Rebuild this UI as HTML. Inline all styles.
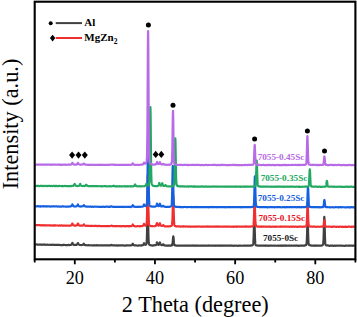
<!DOCTYPE html>
<html><head><meta charset="utf-8"><style>
html,body{margin:0;padding:0;background:#fff;}
svg{display:block;} .t{font-family:"Liberation Serif",serif;}
</style></head><body>
<svg width="357" height="317" viewBox="0 0 357 317">
<rect width="357" height="317" fill="#fff"/>
<polyline points="35.20,244.65 35.70,244.55 36.20,244.53 36.70,244.39 37.20,244.53 37.70,244.53 38.20,244.57 38.70,244.53 39.20,244.59 39.70,244.57 40.20,244.51 40.70,244.70 41.20,244.71 41.70,244.79 42.20,244.66 42.70,244.64 43.20,244.64 43.70,244.57 44.20,244.78 44.70,244.62 45.20,244.62 45.70,244.71 46.20,244.86 46.70,244.77 47.20,244.68 47.70,244.71 48.20,244.83 48.70,244.77 49.20,244.73 49.70,244.78 50.20,244.87 50.70,244.98 51.20,244.73 51.70,244.79 52.20,244.78 52.70,244.66 53.20,244.79 53.70,244.79 54.20,244.97 54.70,244.88 55.20,244.76 55.70,244.95 56.20,244.88 56.70,244.78 57.20,244.88 57.70,244.88 58.20,244.87 58.70,244.95 59.20,244.77 59.70,244.94 60.20,245.05 60.70,245.04 61.20,245.07 61.70,245.08 62.20,245.11 62.70,244.91 63.20,245.07 63.70,244.86 64.20,244.97 64.70,244.87 65.20,245.11 65.70,245.14 66.20,245.02 66.70,245.18 67.20,244.98 67.70,245.05 68.20,245.05 68.70,244.94 69.20,245.05 69.40,245.10 69.50,245.12 69.60,245.14 69.70,245.15 69.80,245.10 69.90,245.05 70.00,244.99 70.10,244.94 70.20,244.88 70.30,244.90 70.40,244.92 70.50,244.93 70.60,244.95 70.70,244.96 70.80,244.92 70.90,244.87 71.00,244.82 71.10,244.77 71.20,244.70 71.30,244.68 71.40,244.64 71.50,244.58 71.60,244.51 71.70,244.40 71.80,244.22 71.90,244.00 72.00,243.74 72.10,243.47 72.20,243.20 72.30,243.02 72.40,242.95 72.50,243.02 72.60,243.21 72.70,243.46 72.80,243.72 72.90,243.95 73.00,244.15 73.10,244.32 73.20,244.45 73.30,244.55 73.40,244.63 73.50,244.70 73.60,244.75 73.70,244.79 73.80,244.80 73.90,244.81 74.00,244.81 74.10,244.80 74.20,244.80 74.30,244.86 74.40,244.92 74.50,244.97 74.60,245.03 74.70,245.08 74.80,245.04 74.90,245.00 75.00,244.96 75.10,244.92 75.20,244.88 75.30,244.90 75.40,244.92 75.50,244.95 75.60,244.97 75.70,244.99 75.80,244.99 75.90,244.98 76.00,244.98 76.10,244.97 76.20,244.96 76.30,244.91 76.40,244.87 76.50,244.81 76.60,244.75 76.70,244.68 76.80,244.64 76.90,244.59 77.00,244.52 77.10,244.43 77.20,244.31 77.30,244.17 77.40,243.99 77.50,243.77 77.60,243.53 77.70,243.30 77.80,243.10 77.90,243.01 78.00,243.06 78.10,243.23 78.20,243.46 78.30,243.70 78.40,243.92 78.50,244.11 78.60,244.26 78.70,244.38 78.80,244.46 78.90,244.51 79.00,244.55 79.10,244.58 79.20,244.60 79.30,244.67 79.40,244.73 79.50,244.79 79.60,244.85 79.70,244.90 79.80,244.92 79.90,244.94 80.00,244.96 80.10,244.98 80.20,244.99 80.30,245.00 80.40,245.01 80.50,245.02 80.60,245.03 80.70,245.03 80.80,245.03 80.90,245.02 81.00,245.02 81.10,245.01 81.20,245.00 81.30,245.02 81.40,245.04 81.50,245.06 81.60,245.08 81.70,245.09 81.80,245.07 81.90,245.04 82.00,245.02 82.10,244.99 82.20,244.96 82.30,244.95 82.40,244.93 82.50,244.91 82.60,244.88 82.70,244.85 82.80,244.81 82.90,244.76 83.00,244.70 83.10,244.62 83.20,244.52 83.30,244.36 83.40,244.18 83.50,244.00 83.60,243.82 83.70,243.69 83.80,243.66 83.90,243.71 84.00,243.83 84.10,243.99 84.20,244.17 84.30,244.36 84.40,244.54 84.50,244.69 84.60,244.83 84.70,244.95 84.80,244.99 84.90,245.03 85.00,245.05 85.10,245.07 85.20,245.08 85.30,245.07 85.40,245.06 85.50,245.05 85.60,245.03 85.70,245.01 85.80,245.04 85.90,245.07 86.00,245.10 86.10,245.13 86.20,245.16 86.30,245.18 86.40,245.19 86.50,245.21 86.60,245.23 86.70,245.24 86.80,245.26 87.20,245.32 87.70,245.25 88.20,245.20 88.70,245.20 89.20,245.32 89.70,245.30 90.20,245.24 90.70,245.27 91.20,245.26 91.70,245.36 92.20,245.25 92.70,245.35 93.20,245.38 93.70,245.36 94.20,245.25 94.70,245.43 95.20,245.28 95.70,245.37 96.20,245.28 96.70,245.20 97.20,245.36 97.70,245.37 98.20,245.35 98.70,245.38 99.20,245.31 99.70,245.30 100.20,245.35 100.70,245.52 101.20,245.44 101.70,245.33 102.20,245.42 102.70,245.34 103.20,245.35 103.70,245.46 104.20,245.35 104.70,245.26 105.20,245.32 105.70,245.40 106.20,245.41 106.70,245.50 107.20,245.34 107.70,245.46 108.20,245.43 108.70,245.39 109.20,245.46 109.70,245.41 110.20,245.27 110.70,245.34 111.20,244.93 111.70,244.99 112.20,245.23 112.70,245.37 113.20,245.33 113.70,245.41 114.20,245.41 114.70,245.51 115.20,245.37 115.70,245.45 116.20,245.43 116.70,245.35 117.20,245.67 117.70,245.45 118.20,245.34 118.70,245.57 119.20,245.38 119.70,245.50 120.20,245.54 120.70,245.42 121.20,245.44 121.70,245.43 122.20,245.47 122.70,245.35 123.20,245.38 123.70,245.47 124.20,245.56 124.70,245.53 125.20,245.62 125.70,245.54 126.20,245.44 126.70,245.47 127.20,245.32 127.70,245.40 128.20,245.40 128.70,245.50 129.20,245.52 129.70,245.41 129.80,245.41 129.90,245.41 130.00,245.40 130.10,245.40 130.20,245.39 130.30,245.37 130.40,245.35 130.50,245.33 130.60,245.31 130.70,245.29 130.80,245.30 130.90,245.31 131.00,245.32 131.10,245.33 131.20,245.34 131.30,245.32 131.40,245.31 131.50,245.28 131.60,245.26 131.70,245.22 131.80,245.17 131.90,245.11 132.00,245.03 132.10,244.93 132.20,244.81 132.30,244.62 132.40,244.41 132.50,244.16 132.60,243.91 132.70,243.72 132.80,243.69 132.90,243.80 133.00,244.03 133.10,244.30 133.20,244.57 133.30,244.76 133.40,244.91 133.50,245.02 133.60,245.11 133.70,245.18 133.80,245.22 133.90,245.26 134.00,245.28 134.10,245.29 134.20,245.30 134.30,245.31 134.40,245.33 134.50,245.34 134.60,245.34 134.70,245.35 134.80,245.36 134.90,245.38 135.00,245.39 135.10,245.40 135.20,245.41 135.30,245.42 135.40,245.43 135.50,245.45 135.60,245.46 135.70,245.47 135.80,245.47 136.20,245.47 136.70,245.51 137.20,245.54 137.70,245.59 138.20,245.57 138.70,245.47 139.20,245.50 139.70,245.43 140.20,245.41 140.70,245.59 141.00,245.46 141.10,245.42 141.20,245.37 141.30,245.41 141.40,245.44 141.50,245.47 141.60,245.50 141.70,245.53 141.80,245.48 141.90,245.43 142.00,245.38 142.10,245.33 142.20,245.27 142.30,245.26 142.40,245.25 142.50,245.23 142.60,245.21 142.70,245.18 142.80,245.14 142.90,245.10 143.00,245.05 143.10,244.98 143.20,244.89 143.30,244.74 143.40,244.56 143.50,244.33 143.60,244.07 143.70,243.77 143.80,243.49 143.90,243.26 144.00,243.18 144.10,243.26 144.20,243.47 144.30,243.73 144.40,243.98 144.50,244.20 144.60,244.37 144.70,244.50 144.80,244.60 144.90,244.68 145.00,244.73 145.10,244.76 145.20,244.78 145.30,244.79 145.40,244.80 145.50,244.79 145.60,244.77 145.70,244.74 145.80,244.69 145.90,244.63 146.00,244.55 146.10,244.44 146.20,244.30 146.30,244.14 146.40,243.88 146.50,243.45 146.60,242.75 146.70,241.63 146.80,239.85 146.90,237.31 147.00,233.87 147.10,229.48 147.20,224.29 147.30,218.68 147.40,213.15 147.50,208.41 147.60,205.20 147.70,204.08 147.80,205.16 147.90,208.34 148.00,213.04 148.10,218.53 148.20,224.11 148.30,229.32 148.40,233.72 148.50,237.19 148.60,239.75 148.70,241.54 148.80,242.72 148.90,243.47 149.00,243.96 149.10,244.27 149.20,244.48 149.30,244.61 149.40,244.71 149.50,244.78 149.60,244.84 149.70,244.89 149.80,244.96 149.90,245.03 150.00,245.10 150.10,245.15 150.20,245.21 150.30,245.23 150.40,245.25 150.50,245.27 150.60,245.28 150.70,245.29 151.20,245.29 151.70,245.39 152.20,245.61 152.70,245.42 153.20,245.42 153.70,245.36 154.00,245.37 154.10,245.37 154.20,245.38 154.30,245.35 154.40,245.31 154.50,245.28 154.60,245.25 154.70,245.21 154.80,245.22 154.90,245.22 155.00,245.21 155.10,245.21 155.20,245.20 155.30,245.21 155.40,245.22 155.50,245.22 155.60,245.21 155.70,245.20 155.80,245.10 155.90,244.99 156.00,244.87 156.10,244.72 156.20,244.53 156.30,244.33 156.40,244.08 156.50,243.78 156.60,243.43 156.70,243.04 156.80,242.69 156.90,242.42 157.00,242.32 157.10,242.42 157.20,242.69 157.30,243.05 157.40,243.43 157.50,243.77 157.60,244.06 157.70,244.30 157.80,244.46 157.90,244.58 158.00,244.66 158.10,244.72 158.20,244.76 158.30,244.82 158.40,244.86 158.50,244.89 158.60,244.90 158.70,244.89 158.80,244.83 158.90,244.74 159.00,244.62 159.10,244.48 159.20,244.30 159.30,244.07 159.40,243.80 159.50,243.48 159.60,243.12 159.70,242.78 159.80,242.55 159.90,242.49 160.00,242.62 160.10,242.90 160.20,243.27 160.30,243.55 160.40,243.81 160.50,244.02 160.60,244.18 160.70,244.29 160.80,244.47 160.90,244.61 161.00,244.74 161.10,244.84 161.20,244.93 161.30,244.99 161.40,245.04 161.50,245.08 161.60,245.11 161.70,245.14 161.80,245.13 161.90,245.11 162.00,245.08 162.10,245.04 162.20,245.00 162.30,244.97 162.40,244.93 162.50,244.88 162.60,244.81 162.70,244.72 162.80,244.60 162.90,244.47 163.00,244.35 163.10,244.26 163.20,244.23 163.30,244.27 163.40,244.36 163.50,244.49 163.60,244.62 163.70,244.75 163.80,244.91 163.90,245.06 164.00,245.19 164.10,245.31 164.20,245.42 164.30,245.43 164.40,245.44 164.50,245.44 164.60,245.43 164.70,245.42 164.80,245.43 164.90,245.43 165.00,245.44 165.10,245.44 165.20,245.44 165.30,245.47 165.40,245.50 165.50,245.53 165.60,245.56 165.70,245.59 165.80,245.57 165.90,245.55 166.00,245.53 166.10,245.51 166.20,245.49 166.70,245.60 167.20,245.57 167.70,245.67 168.20,245.43 168.70,245.61 169.20,245.56 169.70,245.45 170.20,245.61 170.30,245.58 170.40,245.55 170.50,245.51 170.60,245.48 170.70,245.44 170.80,245.47 170.90,245.51 171.00,245.54 171.10,245.57 171.20,245.60 171.30,245.57 171.40,245.54 171.50,245.51 171.60,245.47 171.70,245.43 171.80,245.40 171.90,245.36 172.00,245.30 172.10,245.19 172.20,245.03 172.30,244.76 172.40,244.37 172.50,243.80 172.60,243.03 172.70,242.05 172.80,240.92 172.90,239.68 173.00,238.46 173.10,237.42 173.20,236.71 173.30,236.41 173.40,236.62 173.50,237.30 173.60,238.31 173.70,239.50 173.80,240.79 173.90,241.96 174.00,242.96 174.10,243.75 174.20,244.34 174.30,244.72 174.40,244.97 174.50,245.12 174.60,245.22 174.70,245.27 174.80,245.33 174.90,245.38 175.00,245.42 175.10,245.45 175.20,245.48 175.30,245.49 175.40,245.50 175.50,245.51 175.60,245.51 175.70,245.51 175.80,245.53 175.90,245.55 176.00,245.56 176.10,245.58 176.20,245.60 176.30,245.58 176.70,245.50 177.20,245.73 177.70,245.77 178.20,245.58 178.70,245.60 179.20,245.63 179.70,245.71 180.20,245.76 180.70,245.52 181.20,245.57 181.70,245.53 182.20,245.53 182.70,245.49 183.20,245.65 183.70,245.53 184.20,245.75 184.70,245.70 185.20,245.55 185.70,245.55 186.20,245.58 186.70,245.74 187.20,245.57 187.70,245.52 188.20,245.63 188.70,245.67 189.20,245.58 189.70,245.77 190.20,245.66 190.70,245.68 191.20,245.57 191.70,245.64 192.20,245.63 192.70,245.46 193.20,245.67 193.70,245.50 194.20,245.64 194.70,245.53 195.20,245.81 195.70,245.67 196.20,245.72 196.70,245.72 197.20,245.54 197.70,245.47 198.20,245.62 198.70,245.72 199.20,245.66 199.70,245.71 200.20,245.73 200.70,245.53 201.20,245.68 201.70,245.81 202.20,245.61 202.70,245.49 203.20,245.64 203.70,245.62 204.20,245.69 204.70,245.58 205.20,245.66 205.70,245.48 206.20,245.73 206.70,245.78 207.20,245.76 207.70,245.54 208.20,245.68 208.70,245.42 209.20,245.68 209.70,245.65 210.20,245.58 210.70,245.69 211.20,245.67 211.70,245.74 212.20,245.67 212.70,245.68 213.20,245.51 213.70,245.57 214.20,245.63 214.70,245.69 215.20,245.66 215.70,245.78 216.20,245.59 216.70,245.65 217.20,245.69 217.70,245.65 218.20,245.71 218.70,245.62 219.20,245.78 219.70,245.64 220.20,245.76 220.70,245.66 221.20,245.79 221.70,245.56 222.20,245.71 222.70,245.63 223.20,245.69 223.70,245.76 224.20,245.58 224.70,245.56 225.20,245.59 225.70,245.69 226.20,245.52 226.70,245.68 227.20,245.57 227.70,245.58 228.20,245.64 228.70,245.70 229.20,245.62 229.70,245.63 230.20,245.67 230.70,245.65 231.20,245.46 231.70,245.64 232.20,245.68 232.70,245.76 233.20,245.84 233.70,245.72 234.20,245.68 234.70,245.59 235.20,245.68 235.70,245.73 236.20,245.77 236.70,245.60 237.20,245.69 237.70,245.74 238.20,245.82 238.70,245.69 239.20,245.63 239.70,245.61 240.20,245.64 240.70,245.62 241.20,245.73 241.70,245.75 242.20,245.73 242.70,245.76 243.20,245.63 243.70,245.69 244.20,245.63 244.70,245.66 245.20,245.76 245.70,245.65 246.20,245.50 246.70,245.63 247.20,245.59 247.70,245.52 248.20,245.57 248.70,245.70 249.20,245.75 249.70,245.56 250.20,245.66 250.70,245.64 251.20,245.41 251.30,245.42 251.40,245.42 251.50,245.42 251.60,245.43 251.70,245.43 251.80,245.41 251.90,245.39 252.00,245.36 252.10,245.33 252.20,245.30 252.30,245.27 252.40,245.23 252.50,245.19 252.60,245.13 252.70,245.07 252.80,244.94 252.90,244.78 253.00,244.55 253.10,244.20 253.20,243.68 253.30,242.92 253.40,241.78 253.50,240.12 253.60,237.86 253.70,234.98 253.80,231.56 253.90,227.83 254.00,224.15 254.10,220.99 254.20,218.85 254.30,218.09 254.40,218.86 254.50,221.02 254.60,224.20 254.70,227.91 254.80,231.68 254.90,235.13 255.00,238.04 255.10,240.33 255.20,242.01 255.30,243.14 255.40,243.88 255.50,244.35 255.60,244.63 255.70,244.80 255.80,244.97 255.90,245.10 256.00,245.20 256.10,245.30 256.20,245.38 256.30,245.40 256.40,245.42 256.50,245.43 256.60,245.44 256.70,245.44 256.80,245.43 256.90,245.42 257.00,245.41 257.10,245.39 257.20,245.37 257.30,245.42 257.70,245.59 258.20,245.54 258.70,245.64 259.20,245.60 259.70,245.72 260.20,245.65 260.70,245.62 261.20,245.72 261.70,245.67 262.20,245.62 262.70,245.76 263.20,245.63 263.70,245.61 264.20,245.62 264.70,245.55 265.20,245.63 265.70,245.82 266.20,245.60 266.70,245.68 267.20,245.59 267.70,245.63 268.20,245.80 268.70,245.75 269.20,245.63 269.70,245.68 270.20,245.61 270.70,245.62 271.20,245.61 271.70,245.61 272.20,245.71 272.70,245.73 273.20,245.72 273.70,245.67 274.20,245.57 274.70,245.68 275.20,245.61 275.70,245.75 276.20,245.73 276.70,245.74 277.20,245.66 277.70,245.54 278.20,245.76 278.70,245.78 279.20,245.57 279.70,245.70 280.20,245.78 280.70,245.60 281.20,245.83 281.70,245.66 282.20,245.60 282.70,245.79 283.20,245.71 283.70,245.63 284.20,245.76 284.70,245.53 285.20,245.83 285.70,245.62 286.20,245.71 286.70,245.65 287.20,245.72 287.70,245.76 288.20,245.62 288.70,245.75 289.20,245.66 289.70,245.63 290.20,245.67 290.70,245.60 291.20,245.62 291.70,245.76 292.20,245.67 292.70,245.77 293.20,245.72 293.70,245.60 294.20,245.53 294.70,245.62 295.20,245.70 295.70,245.68 296.20,245.61 296.70,245.76 297.20,245.53 297.70,245.57 298.20,245.68 298.70,245.84 299.20,245.70 299.70,245.58 300.20,245.71 300.70,245.71 301.20,245.72 301.70,245.61 302.20,245.57 302.70,245.63 303.20,245.64 303.70,245.71 304.20,245.72 304.60,245.50 304.70,245.44 304.80,245.43 304.90,245.42 305.00,245.41 305.10,245.39 305.20,245.37 305.30,245.36 305.40,245.34 305.50,245.32 305.60,245.29 305.70,245.26 305.80,245.22 305.90,245.16 306.00,245.09 306.10,245.00 306.20,244.87 306.30,244.69 306.40,244.41 306.50,243.96 306.60,243.25 306.70,242.18 306.80,240.63 306.90,238.51 307.00,235.82 307.10,232.62 307.20,229.14 307.30,225.70 307.40,222.74 307.50,220.73 307.60,220.02 307.70,220.73 307.80,222.75 307.90,225.72 308.00,229.17 308.10,232.67 308.20,235.89 308.30,238.56 308.40,240.65 308.50,242.18 308.60,243.24 308.70,243.93 308.80,244.38 308.90,244.66 309.00,244.83 309.10,244.94 309.20,245.02 309.30,245.08 309.40,245.12 309.50,245.16 309.60,245.19 309.70,245.21 309.80,245.25 309.90,245.28 310.00,245.31 310.10,245.34 310.20,245.37 310.30,245.38 310.40,245.40 310.50,245.41 310.60,245.42 310.70,245.43 311.20,245.41 311.70,245.64 312.20,245.62 312.70,245.58 313.20,245.56 313.70,245.51 314.20,245.56 314.70,245.79 315.20,245.47 315.70,245.66 316.20,245.70 316.70,245.65 317.20,245.61 317.70,245.70 318.20,245.54 318.70,245.67 319.20,245.73 319.70,245.51 320.20,245.51 320.70,245.56 321.20,245.58 321.30,245.57 321.40,245.56 321.50,245.56 321.60,245.54 321.70,245.53 321.80,245.50 321.90,245.47 322.00,245.43 322.10,245.39 322.20,245.35 322.30,245.29 322.40,245.23 322.50,245.16 322.60,245.08 322.70,244.98 322.80,244.87 322.90,244.73 323.00,244.51 323.10,244.17 323.20,243.65 323.30,242.86 323.40,241.67 323.50,239.95 323.60,237.60 323.70,234.61 323.80,231.03 323.90,227.12 324.00,223.27 324.10,219.97 324.20,217.73 324.30,216.90 324.40,217.68 324.50,219.90 324.60,223.18 324.70,227.01 324.80,230.94 324.90,234.54 325.00,237.57 325.10,239.96 325.20,241.72 325.30,242.94 325.40,243.75 325.50,244.27 325.60,244.61 325.70,244.82 325.80,244.97 325.90,245.08 326.00,245.17 326.10,245.24 326.20,245.30 326.30,245.31 326.40,245.32 326.50,245.32 326.60,245.31 326.70,245.31 326.80,245.35 326.90,245.40 327.00,245.44 327.10,245.48 327.20,245.52 327.30,245.51 327.70,245.44 328.20,245.54 328.70,245.59 329.20,245.74 329.70,245.89 330.20,245.66 330.70,245.69 331.20,245.73 331.70,245.55 332.20,245.73 332.70,245.57 333.20,245.80 333.70,245.79 334.20,245.72 334.70,245.61 335.20,245.81 335.70,245.70 336.20,245.69 336.70,245.73 337.20,245.55 337.70,245.72 338.20,245.77 338.70,245.71 339.20,245.70 339.70,245.61 340.20,245.74 340.70,245.70 341.20,245.69 341.70,245.64 342.20,245.76 342.70,245.79 343.20,245.72 343.70,245.76 344.20,245.80 344.70,245.82 345.20,245.71 345.70,245.67 346.20,245.66 346.70,245.69 347.20,245.74 347.70,245.77 348.20,245.66 348.70,245.71 349.20,245.61 349.70,245.79 350.20,245.66 350.70,245.72 351.20,245.64 351.70,245.67 352.20,245.64 352.70,245.83 353.20,245.72 353.70,245.68 354.20,245.62 354.70,245.65" fill="none" stroke="#404040" stroke-width="2.2" stroke-linejoin="round"/>
<polyline points="35.20,225.15 35.70,225.25 36.20,225.01 36.70,225.06 37.20,225.13 37.70,225.10 38.20,225.03 38.70,225.18 39.20,225.24 39.70,225.07 40.20,225.22 40.70,225.29 41.20,225.30 41.70,225.20 42.20,225.43 42.70,225.30 43.20,225.20 43.70,225.35 44.20,225.19 44.70,225.36 45.20,225.20 45.70,225.37 46.20,225.27 46.70,225.42 47.20,225.40 47.70,225.38 48.20,225.36 48.70,225.45 49.20,225.23 49.70,225.42 50.20,225.42 50.70,225.44 51.20,225.47 51.70,225.71 52.20,225.43 52.70,225.50 53.20,225.45 53.70,225.58 54.20,225.30 54.70,225.60 55.20,225.42 55.70,225.30 56.20,225.40 56.70,225.48 57.20,225.52 57.70,225.51 58.20,225.59 58.70,225.53 59.20,225.53 59.70,225.37 60.20,225.59 60.70,225.64 61.20,225.53 61.70,225.42 62.20,225.47 62.70,225.72 63.20,225.54 63.70,225.54 64.20,225.54 64.70,225.66 65.20,225.57 65.70,225.55 66.20,225.50 66.70,225.62 67.20,225.71 67.70,225.62 68.20,225.70 68.70,225.64 69.20,225.63 69.40,225.62 69.50,225.62 69.60,225.62 69.70,225.61 69.80,225.60 69.90,225.59 70.00,225.59 70.10,225.57 70.20,225.56 70.30,225.57 70.40,225.57 70.50,225.57 70.60,225.57 70.70,225.57 70.80,225.54 70.90,225.50 71.00,225.46 71.10,225.41 71.20,225.36 71.30,225.28 71.40,225.19 71.50,225.09 71.60,224.97 71.70,224.82 71.80,224.66 71.90,224.48 72.00,224.25 72.10,224.01 72.20,223.77 72.30,223.58 72.40,223.51 72.50,223.58 72.60,223.76 72.70,224.01 72.80,224.27 72.90,224.52 73.00,224.73 73.10,224.90 73.20,225.04 73.30,225.15 73.40,225.23 73.50,225.29 73.60,225.35 73.70,225.39 73.80,225.43 73.90,225.47 74.00,225.50 74.10,225.53 74.20,225.55 74.30,225.53 74.40,225.52 74.50,225.50 74.60,225.48 74.70,225.46 74.80,225.49 74.90,225.53 75.00,225.56 75.10,225.59 75.20,225.62 75.30,225.64 75.40,225.65 75.50,225.66 75.60,225.67 75.70,225.68 75.80,225.63 75.90,225.58 76.00,225.53 76.10,225.47 76.20,225.41 76.30,225.44 76.40,225.46 76.50,225.48 76.60,225.49 76.70,225.49 76.80,225.41 76.90,225.32 77.00,225.22 77.10,225.09 77.20,224.94 77.30,224.77 77.40,224.56 77.50,224.32 77.60,224.06 77.70,223.80 77.80,223.59 77.90,223.50 78.00,223.55 78.10,223.71 78.20,223.93 78.30,224.24 78.40,224.52 78.50,224.76 78.60,224.98 78.70,225.16 78.80,225.23 78.90,225.29 79.00,225.33 79.10,225.35 79.20,225.37 79.30,225.42 79.40,225.46 79.50,225.49 79.60,225.53 79.70,225.55 79.80,225.59 79.90,225.62 80.00,225.65 80.10,225.68 80.20,225.71 80.30,225.69 80.40,225.67 80.50,225.65 80.60,225.63 80.70,225.61 80.80,225.61 80.90,225.62 81.00,225.62 81.10,225.62 81.20,225.62 81.30,225.62 81.40,225.61 81.50,225.61 81.60,225.60 81.70,225.59 81.80,225.60 81.90,225.61 82.00,225.61 82.10,225.62 82.20,225.62 82.30,225.61 82.40,225.60 82.50,225.58 82.60,225.56 82.70,225.53 82.80,225.48 82.90,225.41 83.00,225.33 83.10,225.24 83.20,225.12 83.30,224.99 83.40,224.84 83.50,224.68 83.60,224.53 83.70,224.42 83.80,224.37 83.90,224.40 84.00,224.50 84.10,224.64 84.20,224.79 84.30,224.95 84.40,225.10 84.50,225.22 84.60,225.33 84.70,225.42 84.80,225.47 84.90,225.51 85.00,225.54 85.10,225.57 85.20,225.59 85.30,225.66 85.40,225.72 85.50,225.79 85.60,225.85 85.70,225.90 85.80,225.89 85.90,225.87 86.00,225.85 86.10,225.84 86.20,225.82 86.30,225.79 86.40,225.76 86.50,225.73 86.60,225.71 86.70,225.68 86.80,225.70 87.20,225.77 87.70,226.00 88.20,225.78 88.70,225.86 89.20,225.94 89.70,225.83 90.20,226.01 90.70,226.07 91.20,225.87 91.70,226.04 92.20,225.88 92.70,225.88 93.20,225.98 93.70,225.99 94.20,225.93 94.70,226.05 95.20,225.87 95.70,225.92 96.20,225.91 96.70,226.06 97.20,226.07 97.70,226.07 98.20,225.92 98.70,226.03 99.20,226.07 99.70,225.90 100.20,225.97 100.70,226.09 101.20,226.10 101.70,226.07 102.20,226.10 102.70,226.09 103.20,226.08 103.70,226.06 104.20,226.00 104.70,226.06 105.20,226.05 105.70,226.27 106.20,226.11 106.70,226.09 107.20,226.08 107.70,226.09 108.20,226.07 108.70,226.14 109.20,226.09 109.70,226.14 110.20,225.99 110.70,225.98 111.20,225.81 111.70,225.60 112.20,225.95 112.70,226.07 113.20,226.07 113.70,226.08 114.20,225.99 114.70,226.24 115.20,226.08 115.70,226.06 116.20,226.22 116.70,226.03 117.20,226.25 117.70,226.22 118.20,226.23 118.70,226.18 119.20,226.10 119.70,226.05 120.20,226.32 120.70,226.17 121.20,226.17 121.70,226.34 122.20,226.16 122.70,226.20 123.20,226.20 123.70,226.21 124.20,226.14 124.70,226.18 125.20,226.33 125.70,226.29 126.20,225.99 126.70,226.08 127.20,226.26 127.70,226.22 128.20,226.20 128.70,226.31 129.20,226.08 129.70,226.31 129.80,226.29 129.90,226.27 130.00,226.25 130.10,226.23 130.20,226.21 130.30,226.21 130.40,226.21 130.50,226.21 130.60,226.21 130.70,226.21 130.80,226.20 130.90,226.18 131.00,226.17 131.10,226.15 131.20,226.13 131.30,226.12 131.40,226.10 131.50,226.09 131.60,226.06 131.70,226.03 131.80,225.96 131.90,225.88 132.00,225.78 132.10,225.66 132.20,225.51 132.30,225.35 132.40,225.15 132.50,224.92 132.60,224.68 132.70,224.50 132.80,224.45 132.90,224.54 133.00,224.74 133.10,224.99 133.20,225.24 133.30,225.43 133.40,225.58 133.50,225.70 133.60,225.79 133.70,225.87 133.80,225.91 133.90,225.94 134.00,225.96 134.10,225.97 134.20,225.97 134.30,226.04 134.40,226.10 134.50,226.16 134.60,226.22 134.70,226.27 134.80,226.28 134.90,226.29 135.00,226.29 135.10,226.30 135.20,226.30 135.30,226.31 135.40,226.32 135.50,226.33 135.60,226.34 135.70,226.34 135.80,226.32 136.20,226.25 136.70,226.28 137.20,226.22 137.70,226.18 138.20,226.26 138.70,226.27 139.20,226.20 139.70,226.39 140.20,226.10 140.70,226.15 141.00,226.14 141.10,226.14 141.20,226.14 141.30,226.16 141.40,226.18 141.50,226.21 141.60,226.23 141.70,226.25 141.80,226.22 141.90,226.18 142.00,226.14 142.10,226.10 142.20,226.06 142.30,226.03 142.40,226.01 142.50,225.98 142.60,225.95 142.70,225.91 142.80,225.85 142.90,225.78 143.00,225.71 143.10,225.61 143.20,225.50 143.30,225.37 143.40,225.21 143.50,225.00 143.60,224.76 143.70,224.47 143.80,224.18 143.90,223.94 144.00,223.84 144.10,223.90 144.20,224.10 144.30,224.40 144.40,224.70 144.50,224.96 144.60,225.18 144.70,225.35 144.80,225.45 144.90,225.52 145.00,225.57 145.10,225.60 145.20,225.61 145.30,225.62 145.40,225.62 145.50,225.61 145.60,225.59 145.70,225.56 145.80,225.49 145.90,225.40 146.00,225.30 146.10,225.17 146.20,225.02 146.30,224.91 146.40,224.72 146.50,224.40 146.60,223.87 146.70,223.00 146.80,221.51 146.90,219.30 147.00,216.13 147.10,211.86 147.20,206.42 147.30,200.01 147.40,193.02 147.50,186.14 147.60,180.23 147.70,176.20 147.80,174.80 147.90,176.26 148.00,180.30 148.10,186.23 148.20,193.13 148.30,200.11 148.40,206.51 148.50,211.91 148.60,216.14 148.70,219.26 148.80,221.43 148.90,222.88 149.00,223.82 149.10,224.42 149.20,224.80 149.30,225.03 149.40,225.18 149.50,225.28 149.60,225.36 149.70,225.42 149.80,225.52 149.90,225.62 150.00,225.70 150.10,225.78 150.20,225.85 150.30,225.91 150.40,225.96 150.50,226.01 150.60,226.06 150.70,226.10 150.80,226.08 151.20,225.99 151.70,226.07 152.20,226.03 152.70,226.21 153.20,226.26 153.70,226.25 154.00,226.25 154.10,226.24 154.20,226.24 154.30,226.24 154.40,226.24 154.50,226.24 154.60,226.24 154.70,226.24 154.80,226.20 154.90,226.17 155.00,226.13 155.10,226.08 155.20,226.04 155.30,226.02 155.40,226.00 155.50,225.97 155.60,225.94 155.70,225.89 155.80,225.79 155.90,225.67 156.00,225.54 156.10,225.38 156.20,225.19 156.30,225.00 156.40,224.76 156.50,224.47 156.60,224.12 156.70,223.75 156.80,223.40 156.90,223.14 157.00,223.05 157.10,223.16 157.20,223.44 157.30,223.78 157.40,224.12 157.50,224.44 157.60,224.70 157.70,224.91 157.80,225.11 157.90,225.27 158.00,225.40 158.10,225.50 158.20,225.58 158.30,225.63 158.40,225.66 158.50,225.68 158.60,225.68 158.70,225.66 158.80,225.60 158.90,225.51 159.00,225.40 159.10,225.25 159.20,225.07 159.30,224.84 159.40,224.57 159.50,224.24 159.60,223.88 159.70,223.53 159.80,223.29 159.90,223.20 160.00,223.30 160.10,223.56 160.20,223.90 160.30,224.28 160.40,224.64 160.50,224.95 160.60,225.21 160.70,225.42 160.80,225.53 160.90,225.62 161.00,225.68 161.10,225.72 161.20,225.74 161.30,225.80 161.40,225.85 161.50,225.90 161.60,225.93 161.70,225.96 161.80,225.96 161.90,225.95 162.00,225.94 162.10,225.91 162.20,225.88 162.30,225.85 162.40,225.80 162.50,225.74 162.60,225.67 162.70,225.57 162.80,225.48 162.90,225.37 163.00,225.28 163.10,225.21 163.20,225.20 163.30,225.21 163.40,225.28 163.50,225.38 163.60,225.49 163.70,225.59 163.80,225.69 163.90,225.77 164.00,225.83 164.10,225.88 164.20,225.92 164.30,226.02 164.40,226.10 164.50,226.18 164.60,226.25 164.70,226.32 164.80,226.32 164.90,226.31 165.00,226.31 165.10,226.30 165.20,226.29 165.30,226.31 165.40,226.33 165.50,226.34 165.60,226.36 165.70,226.37 165.80,226.37 165.90,226.36 166.00,226.35 166.10,226.34 166.20,226.34 166.70,226.41 167.20,226.46 167.70,226.46 168.20,226.33 168.70,226.31 169.20,226.35 169.70,226.30 170.20,226.28 170.30,226.25 170.40,226.21 170.50,226.18 170.60,226.14 170.70,226.09 170.80,226.04 170.90,225.99 171.00,225.94 171.10,225.87 171.20,225.81 171.30,225.81 171.40,225.80 171.50,225.78 171.60,225.74 171.70,225.68 171.80,225.53 171.90,225.31 172.00,224.95 172.10,224.39 172.20,223.52 172.30,222.19 172.40,220.28 172.50,217.69 172.60,214.38 172.70,210.46 172.80,206.21 172.90,202.01 173.00,198.41 173.10,195.97 173.20,195.11 173.30,195.98 173.40,198.42 173.50,202.03 173.60,206.23 173.70,210.49 173.80,214.39 173.90,217.67 174.00,220.24 174.10,222.13 174.20,223.43 174.30,224.34 174.40,224.93 174.50,225.31 174.60,225.56 174.70,225.74 174.80,225.83 174.90,225.90 175.00,225.95 175.10,225.98 175.20,226.01 175.30,226.08 175.40,226.13 175.50,226.19 175.60,226.24 175.70,226.28 175.80,226.29 175.90,226.29 176.00,226.30 176.10,226.30 176.20,226.30 176.70,226.37 177.20,226.39 177.70,226.41 178.20,226.30 178.70,226.44 179.20,226.27 179.70,226.50 180.20,226.55 180.70,226.64 181.20,226.52 181.70,226.43 182.20,226.37 182.70,226.66 183.20,226.39 183.70,226.58 184.20,226.33 184.70,226.51 185.20,226.57 185.70,226.55 186.20,226.52 186.70,226.46 187.20,226.46 187.70,226.61 188.20,226.57 188.70,226.52 189.20,226.56 189.70,226.47 190.20,226.63 190.70,226.65 191.20,226.48 191.70,226.56 192.20,226.63 192.70,226.50 193.20,226.72 193.70,226.68 194.20,226.54 194.70,226.64 195.20,226.69 195.70,226.46 196.20,226.61 196.70,226.56 197.20,226.55 197.70,226.63 198.20,226.53 198.70,226.46 199.20,226.46 199.70,226.57 200.20,226.63 200.70,226.58 201.20,226.57 201.70,226.58 202.20,226.69 202.70,226.63 203.20,226.53 203.70,226.56 204.20,226.69 204.70,226.54 205.20,226.56 205.70,226.59 206.20,226.51 206.70,226.67 207.20,226.42 207.70,226.71 208.20,226.57 208.70,226.50 209.20,226.63 209.70,226.47 210.20,226.65 210.70,226.67 211.20,226.56 211.70,226.58 212.20,226.69 212.70,226.56 213.20,226.61 213.70,226.64 214.20,226.74 214.70,226.58 215.20,226.62 215.70,226.71 216.20,226.41 216.70,226.60 217.20,226.47 217.70,226.48 218.20,226.78 218.70,226.64 219.20,226.74 219.70,226.61 220.20,226.67 220.70,226.59 221.20,226.59 221.70,226.63 222.20,226.64 222.70,226.76 223.20,226.62 223.70,226.67 224.20,226.62 224.70,226.65 225.20,226.53 225.70,226.73 226.20,226.60 226.70,226.64 227.20,226.62 227.70,226.72 228.20,226.69 228.70,226.65 229.20,226.66 229.70,226.67 230.20,226.71 230.70,226.69 231.20,226.75 231.70,226.78 232.20,226.70 232.70,226.54 233.20,226.79 233.70,226.82 234.20,226.62 234.70,226.62 235.20,226.49 235.70,226.72 236.20,226.57 236.70,226.80 237.20,226.46 237.70,226.66 238.20,226.71 238.70,226.63 239.20,226.59 239.70,226.68 240.20,226.62 240.70,226.63 241.20,226.66 241.70,226.61 242.20,226.64 242.70,226.72 243.20,226.63 243.70,226.67 244.20,226.60 244.70,226.73 245.20,226.55 245.70,226.73 246.20,226.41 246.70,226.58 247.20,226.52 247.70,226.72 248.20,226.66 248.70,226.53 249.20,226.58 249.70,226.72 250.20,226.59 250.70,226.62 251.20,226.42 251.60,226.38 251.70,226.37 251.80,226.39 251.90,226.40 252.00,226.42 252.10,226.44 252.20,226.45 252.30,226.45 252.40,226.45 252.50,226.45 252.60,226.44 252.70,226.43 252.80,226.34 252.90,226.24 253.00,226.13 253.10,225.99 253.20,225.81 253.30,225.64 253.40,225.35 253.50,224.89 253.60,224.16 253.70,223.05 253.80,221.41 253.90,219.19 254.00,216.37 254.10,213.03 254.20,209.38 254.30,205.84 254.40,202.82 254.50,200.77 254.60,200.06 254.70,200.84 254.80,202.90 254.90,205.93 255.00,209.47 255.10,213.07 255.20,216.36 255.30,219.16 255.40,221.36 255.50,222.97 255.60,224.10 255.70,224.84 255.80,225.30 255.90,225.58 256.00,225.75 256.10,225.86 256.20,225.93 256.30,226.02 256.40,226.10 256.50,226.17 256.60,226.24 256.70,226.29 256.80,226.33 256.90,226.37 257.00,226.40 257.10,226.43 257.20,226.46 257.30,226.50 257.40,226.53 257.50,226.57 257.60,226.60 257.70,226.63 258.20,226.47 258.70,226.67 259.20,226.58 259.70,226.60 260.20,226.56 260.70,226.51 261.20,226.56 261.70,226.79 262.20,226.57 262.70,226.64 263.20,226.76 263.70,226.51 264.20,226.71 264.70,226.64 265.20,226.70 265.70,226.75 266.20,226.67 266.70,226.67 267.20,226.75 267.70,226.74 268.20,226.63 268.70,226.68 269.20,226.59 269.70,226.80 270.20,226.60 270.70,226.71 271.20,226.84 271.70,226.76 272.20,226.68 272.70,226.64 273.20,226.65 273.70,226.78 274.20,226.73 274.70,226.70 275.20,226.91 275.70,226.64 276.20,226.67 276.70,226.68 277.20,226.73 277.70,226.73 278.20,226.69 278.70,226.77 279.20,226.75 279.70,226.69 280.20,226.52 280.70,226.78 281.20,226.64 281.70,226.66 282.20,226.70 282.70,226.61 283.20,226.65 283.70,226.72 284.20,226.69 284.70,226.74 285.20,226.64 285.70,226.69 286.20,226.63 286.70,226.69 287.20,226.74 287.70,226.69 288.20,226.60 288.70,226.70 289.20,226.73 289.70,226.81 290.20,226.71 290.70,226.68 291.20,226.62 291.70,226.88 292.20,226.64 292.70,226.63 293.20,226.70 293.70,226.57 294.20,226.80 294.70,226.73 295.20,226.76 295.70,226.64 296.20,226.67 296.70,226.78 297.20,226.79 297.70,226.94 298.20,226.80 298.70,226.56 299.20,226.72 299.70,226.68 300.20,226.79 300.70,226.69 301.20,226.74 301.70,226.66 302.20,226.73 302.70,226.79 303.20,226.61 303.70,226.48 304.20,226.53 304.60,226.66 304.70,226.69 304.80,226.66 304.90,226.62 305.00,226.59 305.10,226.55 305.20,226.51 305.30,226.48 305.40,226.45 305.50,226.42 305.60,226.38 305.70,226.34 305.80,226.29 305.90,226.23 306.00,226.16 306.10,226.07 306.20,225.95 306.30,225.82 306.40,225.59 306.50,225.21 306.60,224.61 306.70,223.68 306.80,222.29 306.90,220.41 307.00,218.01 307.10,215.17 307.20,212.08 307.30,209.03 307.40,206.41 307.50,204.63 307.60,203.99 307.70,204.62 307.80,206.39 307.90,208.99 308.00,212.02 308.10,215.10 308.20,217.92 308.30,220.32 308.40,222.19 308.50,223.58 308.60,224.54 308.70,225.18 308.80,225.59 308.90,225.85 309.00,226.01 309.10,226.12 309.20,226.19 309.30,226.27 309.40,226.33 309.50,226.38 309.60,226.43 309.70,226.47 309.80,226.51 309.90,226.55 310.00,226.58 310.10,226.61 310.20,226.63 310.30,226.60 310.40,226.56 310.50,226.52 310.60,226.48 310.70,226.43 311.20,226.51 311.70,226.65 312.20,226.68 312.70,226.56 313.20,226.64 313.70,226.67 314.20,226.67 314.70,226.67 315.20,226.71 315.70,226.79 316.20,226.78 316.70,226.77 317.20,226.74 317.70,226.66 318.20,226.68 318.70,226.78 319.20,226.73 319.70,226.78 320.20,226.74 320.70,226.71 321.20,226.73 321.40,226.67 321.50,226.63 321.60,226.60 321.70,226.56 321.80,226.58 321.90,226.60 322.00,226.61 322.10,226.63 322.20,226.65 322.30,226.63 322.40,226.62 322.50,226.60 322.60,226.58 322.70,226.56 322.80,226.57 322.90,226.57 323.00,226.56 323.10,226.54 323.20,226.48 323.30,226.34 323.40,226.13 323.50,225.83 323.60,225.41 323.70,224.85 323.80,224.18 323.90,223.38 324.00,222.50 324.10,221.64 324.20,220.90 324.30,220.38 324.40,220.19 324.50,220.36 324.60,220.86 324.70,221.60 324.80,222.49 324.90,223.40 325.00,224.23 325.10,224.93 325.20,225.48 325.30,225.88 325.40,226.16 325.50,226.35 325.60,226.47 325.70,226.55 325.80,226.58 325.90,226.60 326.00,226.61 326.10,226.61 326.20,226.61 326.30,226.63 326.40,226.64 326.50,226.66 326.60,226.67 326.70,226.68 326.80,226.69 326.90,226.69 327.00,226.70 327.10,226.70 327.20,226.71 327.30,226.72 327.40,226.73 327.70,226.77 328.20,226.69 328.70,226.73 329.20,226.70 329.70,226.66 330.20,226.75 330.70,226.77 331.20,226.68 331.70,226.87 332.20,226.68 332.70,226.80 333.20,226.77 333.70,226.61 334.20,226.74 334.70,226.62 335.20,226.74 335.70,226.80 336.20,226.90 336.70,226.81 337.20,226.63 337.70,226.72 338.20,226.87 338.70,226.77 339.20,226.89 339.70,226.69 340.20,226.71 340.70,226.64 341.20,226.72 341.70,226.85 342.20,226.68 342.70,226.82 343.20,226.79 343.70,226.82 344.20,226.73 344.70,226.76 345.20,226.93 345.70,226.66 346.20,226.82 346.70,226.88 347.20,226.79 347.70,226.89 348.20,226.52 348.70,226.73 349.20,226.66 349.70,226.72 350.20,226.75 350.70,226.80 351.20,226.69 351.70,226.83 352.20,226.63 352.70,226.84 353.20,226.74 353.70,226.62 354.20,226.62 354.70,226.62" fill="none" stroke="#f03030" stroke-width="2.2" stroke-linejoin="round"/>
<polyline points="35.20,206.21 35.70,206.31 36.20,206.41 36.70,206.37 37.20,206.20 37.70,206.13 38.20,206.30 38.70,206.21 39.20,206.32 39.70,206.28 40.20,206.54 40.70,206.20 41.20,206.37 41.70,206.50 42.20,206.32 42.70,206.30 43.20,206.50 43.70,206.20 44.20,206.24 44.70,206.28 45.20,206.41 45.70,206.45 46.20,206.38 46.70,206.57 47.20,206.38 47.70,206.40 48.20,206.39 48.70,206.51 49.20,206.42 49.70,206.39 50.20,206.56 50.70,206.54 51.20,206.52 51.70,206.34 52.20,206.36 52.70,206.43 53.20,206.43 53.70,206.42 54.20,206.44 54.70,206.52 55.20,206.39 55.70,206.49 56.20,206.45 56.70,206.44 57.20,206.46 57.70,206.55 58.20,206.52 58.70,206.43 59.20,206.53 59.70,206.52 60.20,206.54 60.70,206.49 61.20,206.60 61.70,206.55 62.20,206.43 62.70,206.42 63.20,206.42 63.70,206.56 64.20,206.48 64.70,206.51 65.20,206.53 65.70,206.64 66.20,206.72 66.70,206.53 67.20,206.70 67.70,206.58 68.20,206.63 68.70,206.50 69.20,206.41 69.40,206.46 69.50,206.48 69.60,206.51 69.70,206.53 69.80,206.54 69.90,206.54 70.00,206.55 70.10,206.55 70.20,206.55 70.30,206.50 70.40,206.44 70.50,206.38 70.60,206.31 70.70,206.25 70.80,206.25 70.90,206.24 71.00,206.24 71.10,206.22 71.20,206.20 71.30,206.14 71.40,206.08 71.50,205.99 71.60,205.89 71.70,205.76 71.80,205.60 71.90,205.41 72.00,205.18 72.10,204.93 72.20,204.69 72.30,204.48 72.40,204.38 72.50,204.42 72.60,204.58 72.70,204.80 72.80,205.07 72.90,205.31 73.00,205.52 73.10,205.69 73.20,205.83 73.30,205.96 73.40,206.07 73.50,206.17 73.60,206.25 73.70,206.32 73.80,206.37 73.90,206.42 74.00,206.46 74.10,206.49 74.20,206.53 74.30,206.51 74.40,206.50 74.50,206.48 74.60,206.47 74.70,206.45 74.80,206.46 74.90,206.48 75.00,206.50 75.10,206.52 75.20,206.53 75.30,206.52 75.40,206.50 75.50,206.49 75.60,206.47 75.70,206.45 75.80,206.44 75.90,206.44 76.00,206.43 76.10,206.42 76.20,206.41 76.30,206.37 76.40,206.33 76.50,206.29 76.60,206.24 76.70,206.18 76.80,206.13 76.90,206.06 77.00,205.98 77.10,205.87 77.20,205.74 77.30,205.57 77.40,205.37 77.50,205.13 77.60,204.87 77.70,204.62 77.80,204.44 77.90,204.38 78.00,204.47 78.10,204.67 78.20,204.92 78.30,205.20 78.40,205.45 78.50,205.67 78.60,205.85 78.70,206.00 78.80,206.09 78.90,206.16 79.00,206.22 79.10,206.26 79.20,206.30 79.30,206.34 79.40,206.38 79.50,206.42 79.60,206.45 79.70,206.48 79.80,206.48 79.90,206.47 80.00,206.46 80.10,206.45 80.20,206.44 80.30,206.47 80.40,206.50 80.50,206.52 80.60,206.55 80.70,206.58 80.80,206.52 80.90,206.46 81.00,206.40 81.10,206.33 81.20,206.27 81.30,206.30 81.40,206.32 81.50,206.35 81.60,206.37 81.70,206.39 81.80,206.40 81.90,206.41 82.00,206.41 82.10,206.42 82.20,206.42 82.30,206.38 82.40,206.33 82.50,206.28 82.60,206.22 82.70,206.15 82.80,206.14 82.90,206.11 83.00,206.08 83.10,206.02 83.20,205.95 83.30,205.81 83.40,205.65 83.50,205.48 83.60,205.33 83.70,205.21 83.80,205.16 83.90,205.18 84.00,205.27 84.10,205.41 84.20,205.55 84.30,205.72 84.40,205.88 84.50,206.01 84.60,206.12 84.70,206.22 84.80,206.26 84.90,206.28 85.00,206.30 85.10,206.31 85.20,206.32 85.30,206.36 85.40,206.39 85.50,206.42 85.60,206.45 85.70,206.47 85.80,206.49 85.90,206.51 86.00,206.53 86.10,206.55 86.20,206.57 86.30,206.55 86.40,206.54 86.50,206.53 86.60,206.51 86.70,206.50 86.80,206.55 87.20,206.73 87.70,206.61 88.20,206.75 88.70,206.67 89.20,206.71 89.70,206.62 90.20,206.68 90.70,206.67 91.20,206.73 91.70,206.83 92.20,206.67 92.70,206.71 93.20,206.76 93.70,206.80 94.20,206.72 94.70,206.71 95.20,206.69 95.70,206.74 96.20,206.77 96.70,206.69 97.20,206.73 97.70,206.82 98.20,206.76 98.70,206.72 99.20,206.82 99.70,206.82 100.20,206.82 100.70,206.83 101.20,206.74 101.70,206.79 102.20,206.80 102.70,206.79 103.20,206.64 103.70,206.78 104.20,206.82 104.70,206.83 105.20,206.77 105.70,206.80 106.20,206.65 106.70,206.68 107.20,206.56 107.70,206.78 108.20,206.93 108.70,206.93 109.20,206.69 109.70,206.82 110.20,206.83 110.70,206.62 111.20,206.27 111.70,206.49 112.20,206.59 112.70,206.70 113.20,206.92 113.70,206.84 114.20,206.88 114.70,206.95 115.20,206.82 115.70,206.76 116.20,206.90 116.70,206.84 117.20,206.90 117.70,206.88 118.20,206.79 118.70,206.86 119.20,206.83 119.70,206.84 120.20,206.86 120.70,206.89 121.20,206.88 121.70,206.76 122.20,206.92 122.70,206.75 123.20,207.05 123.70,206.81 124.20,206.87 124.70,206.98 125.20,206.86 125.70,206.77 126.20,206.76 126.70,206.90 127.20,206.91 127.70,206.94 128.20,206.89 128.70,206.83 129.20,206.90 129.70,206.96 129.80,206.92 129.90,206.89 130.00,206.85 130.10,206.81 130.20,206.77 130.30,206.83 130.40,206.90 130.50,206.96 130.60,207.02 130.70,207.09 130.80,207.01 130.90,206.94 131.00,206.86 131.10,206.78 131.20,206.70 131.30,206.71 131.40,206.71 131.50,206.71 131.60,206.70 131.70,206.69 131.80,206.65 131.90,206.59 132.00,206.52 132.10,206.43 132.20,206.31 132.30,206.13 132.40,205.92 132.50,205.68 132.60,205.43 132.70,205.24 132.80,205.16 132.90,205.22 133.00,205.39 133.10,205.61 133.20,205.82 133.30,206.03 133.40,206.20 133.50,206.33 133.60,206.44 133.70,206.53 133.80,206.60 133.90,206.67 134.00,206.72 134.10,206.76 134.20,206.80 134.30,206.76 134.40,206.72 134.50,206.67 134.60,206.62 134.70,206.57 134.80,206.63 134.90,206.69 135.00,206.74 135.10,206.80 135.20,206.86 135.30,206.85 135.40,206.84 135.50,206.83 135.60,206.82 135.70,206.81 135.80,206.81 136.20,206.80 136.70,206.87 137.20,206.88 137.70,206.90 138.20,206.81 138.70,206.95 139.20,206.68 139.70,206.76 140.20,206.73 140.70,206.81 141.00,206.77 141.10,206.75 141.20,206.73 141.30,206.74 141.40,206.75 141.50,206.76 141.60,206.77 141.70,206.77 141.80,206.74 141.90,206.70 142.00,206.67 142.10,206.63 142.20,206.59 142.30,206.60 142.40,206.61 142.50,206.61 142.60,206.61 142.70,206.61 142.80,206.55 142.90,206.48 143.00,206.41 143.10,206.31 143.20,206.20 143.30,206.04 143.40,205.86 143.50,205.63 143.60,205.36 143.70,205.05 143.80,204.74 143.90,204.50 144.00,204.38 144.10,204.43 144.20,204.62 144.30,204.89 144.40,205.16 144.50,205.39 144.60,205.58 144.70,205.72 144.80,205.82 144.90,205.89 145.00,205.93 145.10,205.96 145.20,205.97 145.30,206.02 145.40,206.06 145.50,206.09 145.60,206.11 145.70,206.12 145.80,206.07 145.90,206.01 146.00,205.93 146.10,205.84 146.20,205.74 146.30,205.59 146.40,205.42 146.50,205.21 146.60,204.94 146.70,204.57 146.80,204.10 146.90,203.35 147.00,202.13 147.10,200.19 147.20,197.26 147.30,192.93 147.40,187.06 147.50,179.59 147.60,170.73 147.70,161.06 147.80,151.54 147.90,143.37 148.00,137.79 148.10,135.79 148.20,137.73 148.30,143.33 148.40,151.53 148.50,161.08 148.60,170.76 148.70,179.64 148.80,187.09 148.90,192.93 149.00,197.23 149.10,200.23 149.20,202.22 149.30,203.47 149.40,204.26 149.50,204.76 149.60,205.09 149.70,205.31 149.80,205.48 149.90,205.62 150.00,205.73 150.10,205.82 150.20,205.89 150.30,206.01 150.40,206.11 150.50,206.21 150.60,206.30 150.70,206.38 150.80,206.40 150.90,206.41 151.00,206.42 151.10,206.42 151.20,206.42 151.70,206.57 152.20,206.68 152.70,206.71 153.20,206.68 153.70,206.64 154.00,206.72 154.10,206.74 154.20,206.77 154.30,206.71 154.40,206.66 154.50,206.61 154.60,206.55 154.70,206.49 154.80,206.52 154.90,206.54 155.00,206.56 155.10,206.58 155.20,206.60 155.30,206.57 155.40,206.54 155.50,206.49 155.60,206.44 155.70,206.38 155.80,206.32 155.90,206.24 156.00,206.14 156.10,206.01 156.20,205.86 156.30,205.65 156.40,205.39 156.50,205.08 156.60,204.73 156.70,204.34 156.80,203.98 156.90,203.71 157.00,203.62 157.10,203.72 157.20,203.99 157.30,204.36 157.40,204.73 157.50,205.07 157.60,205.36 157.70,205.59 157.80,205.74 157.90,205.85 158.00,205.93 158.10,205.98 158.20,206.01 158.30,206.06 158.40,206.10 158.50,206.12 158.60,206.12 158.70,206.11 158.80,206.07 158.90,206.00 159.00,205.91 159.10,205.79 159.20,205.63 159.30,205.39 159.40,205.10 159.50,204.77 159.60,204.40 159.70,204.05 159.80,203.81 159.90,203.72 160.00,203.83 160.10,204.09 160.20,204.44 160.30,204.83 160.40,205.19 160.50,205.51 160.60,205.77 160.70,205.99 160.80,206.13 160.90,206.24 161.00,206.32 161.10,206.39 161.20,206.44 161.30,206.46 161.40,206.47 161.50,206.47 161.60,206.46 161.70,206.44 161.80,206.47 161.90,206.50 162.00,206.51 162.10,206.52 162.20,206.51 162.30,206.47 162.40,206.42 162.50,206.35 162.60,206.26 162.70,206.15 162.80,206.06 162.90,205.95 163.00,205.85 163.10,205.79 163.20,205.78 163.30,205.81 163.40,205.90 163.50,206.02 163.60,206.15 163.70,206.27 163.80,206.33 163.90,206.36 164.00,206.39 164.10,206.39 164.20,206.39 164.30,206.47 164.40,206.54 164.50,206.61 164.60,206.67 164.70,206.72 164.80,206.77 164.90,206.81 165.00,206.85 165.10,206.89 165.20,206.93 165.30,206.94 165.40,206.96 165.50,206.97 165.60,206.98 165.70,206.99 165.80,206.96 165.90,206.92 166.00,206.89 166.10,206.86 166.20,206.82 166.70,206.78 167.20,206.90 167.70,206.82 168.20,206.86 168.70,206.74 169.20,206.86 169.70,206.78 169.80,206.76 169.90,206.74 170.00,206.72 170.10,206.70 170.20,206.67 170.30,206.62 170.40,206.56 170.50,206.50 170.60,206.44 170.70,206.37 170.80,206.30 170.90,206.24 171.00,206.16 171.10,206.06 171.20,205.95 171.30,205.81 171.40,205.62 171.50,205.32 171.60,204.86 171.70,204.13 171.80,203.01 171.90,201.31 172.00,198.86 172.10,195.51 172.20,191.23 172.30,186.09 172.40,180.49 172.50,174.96 172.60,170.22 172.70,166.97 172.80,165.87 172.90,167.05 173.00,170.30 173.10,175.05 173.20,180.58 173.30,186.17 173.40,191.29 173.50,195.61 173.60,199.01 173.70,201.51 173.80,203.20 173.90,204.31 174.00,205.01 174.10,205.44 174.20,205.71 174.30,205.91 174.40,206.06 174.50,206.18 174.60,206.27 174.70,206.35 174.80,206.43 174.90,206.50 175.00,206.57 175.10,206.63 175.20,206.68 175.30,206.71 175.40,206.74 175.50,206.77 175.60,206.79 175.70,206.81 175.80,206.80 176.20,206.77 176.70,206.86 177.20,206.92 177.70,206.92 178.20,207.00 178.70,207.00 179.20,207.09 179.70,206.86 180.20,207.10 180.70,207.08 181.20,207.01 181.70,207.06 182.20,207.11 182.70,207.06 183.20,207.02 183.70,207.07 184.20,206.99 184.70,206.95 185.20,206.98 185.70,206.99 186.20,207.07 186.70,207.12 187.20,207.08 187.70,207.18 188.20,207.06 188.70,207.02 189.20,207.01 189.70,207.00 190.20,207.05 190.70,207.19 191.20,206.96 191.70,207.12 192.20,207.08 192.70,207.15 193.20,207.05 193.70,207.14 194.20,207.05 194.70,207.14 195.20,206.93 195.70,207.13 196.20,207.15 196.70,206.97 197.20,207.16 197.70,207.01 198.20,207.18 198.70,207.10 199.20,207.16 199.70,207.13 200.20,207.01 200.70,207.23 201.20,207.20 201.70,207.03 202.20,207.16 202.70,207.15 203.20,207.06 203.70,207.03 204.20,207.22 204.70,207.08 205.20,207.19 205.70,207.27 206.20,207.16 206.70,207.05 207.20,207.20 207.70,207.01 208.20,207.05 208.70,207.36 209.20,207.06 209.70,207.15 210.20,207.04 210.70,207.12 211.20,207.15 211.70,206.92 212.20,207.08 212.70,207.18 213.20,207.20 213.70,207.16 214.20,207.06 214.70,207.17 215.20,207.10 215.70,207.07 216.20,207.14 216.70,207.32 217.20,207.07 217.70,207.22 218.20,207.16 218.70,207.02 219.20,207.07 219.70,207.13 220.20,207.11 220.70,207.17 221.20,207.07 221.70,207.06 222.20,207.23 222.70,207.14 223.20,207.08 223.70,207.15 224.20,207.30 224.70,207.10 225.20,207.03 225.70,207.23 226.20,207.31 226.70,207.25 227.20,207.05 227.70,206.99 228.20,207.26 228.70,207.14 229.20,207.20 229.70,207.14 230.20,207.29 230.70,207.16 231.20,207.13 231.70,207.17 232.20,207.06 232.70,207.17 233.20,207.15 233.70,206.99 234.20,207.07 234.70,207.06 235.20,207.03 235.70,207.19 236.20,207.25 236.70,207.19 237.20,207.04 237.70,207.02 238.20,207.22 238.70,207.14 239.20,207.15 239.70,207.06 240.20,207.00 240.70,207.34 241.20,207.11 241.70,207.14 242.20,207.07 242.70,207.28 243.20,207.13 243.70,207.14 244.20,207.16 244.70,207.15 245.20,207.27 245.70,207.01 246.20,207.20 246.70,207.10 247.20,207.11 247.70,207.09 248.20,207.17 248.70,207.02 249.20,207.07 249.70,207.15 250.20,207.05 250.70,207.03 251.20,207.07 251.70,207.00 251.90,206.96 252.00,206.94 252.10,206.92 252.20,206.89 252.30,206.88 252.40,206.87 252.50,206.85 252.60,206.83 252.70,206.80 252.80,206.75 252.90,206.70 253.00,206.64 253.10,206.57 253.20,206.49 253.30,206.44 253.40,206.36 253.50,206.24 253.60,206.04 253.70,205.72 253.80,205.14 253.90,204.25 254.00,202.93 254.10,201.04 254.20,198.48 254.30,195.26 254.40,191.43 254.50,187.26 254.60,183.15 254.70,179.62 254.80,177.25 254.90,176.43 255.00,177.32 255.10,179.75 255.20,183.30 255.30,187.38 255.40,191.51 255.50,195.30 255.60,198.49 255.70,200.99 255.80,202.85 255.90,204.15 256.00,205.02 256.10,205.57 256.20,205.93 256.30,206.17 256.40,206.33 256.50,206.45 256.60,206.54 256.70,206.61 256.80,206.68 256.90,206.74 257.00,206.80 257.10,206.85 257.20,206.89 257.30,206.90 257.40,206.90 257.50,206.91 257.60,206.91 257.70,206.91 257.80,206.92 257.90,206.94 258.20,206.97 258.70,207.02 259.20,207.11 259.70,207.06 260.20,207.14 260.70,207.24 261.20,207.12 261.70,207.12 262.20,207.08 262.70,207.10 263.20,207.06 263.70,207.08 264.20,207.12 264.70,207.20 265.20,207.21 265.70,207.14 266.20,207.20 266.70,207.08 267.20,207.35 267.70,207.38 268.20,207.17 268.70,207.23 269.20,207.19 269.70,207.25 270.20,207.14 270.70,207.07 271.20,207.26 271.70,207.10 272.20,207.22 272.70,207.12 273.20,207.13 273.70,207.27 274.20,207.32 274.70,207.18 275.20,207.16 275.70,207.22 276.20,207.15 276.70,207.06 277.20,207.20 277.70,207.02 278.20,207.23 278.70,207.16 279.20,207.22 279.70,207.08 280.20,207.14 280.70,207.25 281.20,207.31 281.70,207.27 282.20,207.24 282.70,207.12 283.20,207.25 283.70,207.22 284.20,207.18 284.70,207.31 285.20,207.15 285.70,207.35 286.20,207.16 286.70,207.15 287.20,207.20 287.70,207.10 288.20,207.17 288.70,207.22 289.20,207.07 289.70,207.14 290.20,207.10 290.70,207.17 291.20,207.30 291.70,207.18 292.20,207.19 292.70,207.23 293.20,207.12 293.70,207.23 294.20,207.17 294.70,207.16 295.20,207.07 295.70,207.16 296.20,207.29 296.70,207.30 297.20,207.18 297.70,207.21 298.20,207.17 298.70,207.12 299.20,207.06 299.70,207.34 300.20,207.12 300.70,207.21 301.20,207.32 301.70,207.16 302.20,207.17 302.70,207.20 303.20,207.14 303.70,207.18 304.20,207.11 304.70,207.20 305.00,207.15 305.10,207.13 305.20,207.11 305.30,207.07 305.40,207.03 305.50,206.99 305.60,206.95 305.70,206.90 305.80,206.88 305.90,206.85 306.00,206.82 306.10,206.79 306.20,206.76 306.30,206.72 306.40,206.68 306.50,206.62 306.60,206.54 306.70,206.40 306.80,206.17 306.90,205.81 307.00,205.24 307.10,204.39 307.20,203.16 307.30,201.50 307.40,199.37 307.50,196.86 307.60,194.11 307.70,191.40 307.80,189.10 307.90,187.55 308.00,187.02 308.10,187.60 308.20,189.21 308.30,191.51 308.40,194.19 308.50,196.91 308.60,199.40 308.70,201.49 308.80,203.16 308.90,204.39 309.00,205.25 309.10,205.82 309.20,206.19 309.30,206.43 309.40,206.58 309.50,206.69 309.60,206.77 309.70,206.83 309.80,206.84 309.90,206.84 310.00,206.84 310.10,206.83 310.20,206.82 310.30,206.88 310.40,206.94 310.50,206.99 310.60,207.04 310.70,207.09 310.80,207.11 310.90,207.12 311.00,207.13 311.20,207.15 311.70,207.25 312.20,207.08 312.70,207.14 313.20,207.20 313.70,207.16 314.20,207.08 314.70,207.28 315.20,207.18 315.70,207.24 316.20,207.13 316.70,207.29 317.20,207.19 317.70,207.16 318.20,207.28 318.70,207.30 319.20,207.14 319.70,207.29 320.20,207.34 320.70,207.22 321.20,207.08 321.40,207.14 321.50,207.16 321.60,207.19 321.70,207.22 321.80,207.22 321.90,207.23 322.00,207.23 322.10,207.23 322.20,207.23 322.30,207.19 322.40,207.15 322.50,207.10 322.60,207.06 322.70,207.01 322.80,207.03 322.90,207.05 323.00,207.06 323.10,207.05 323.20,207.01 323.30,206.85 323.40,206.62 323.50,206.28 323.60,205.81 323.70,205.19 323.80,204.43 323.90,203.53 324.00,202.55 324.10,201.58 324.20,200.75 324.30,200.21 324.40,200.02 324.50,200.24 324.60,200.83 324.70,201.68 324.80,202.64 324.90,203.60 325.00,204.49 325.10,205.24 325.20,205.82 325.30,206.27 325.40,206.60 325.50,206.82 325.60,206.96 325.70,207.06 325.80,207.10 325.90,207.11 326.00,207.12 326.10,207.11 326.20,207.11 326.30,207.13 326.40,207.15 326.50,207.16 326.60,207.18 326.70,207.19 326.80,207.19 326.90,207.19 327.00,207.19 327.10,207.19 327.20,207.19 327.30,207.19 327.40,207.20 327.70,207.22 328.20,207.26 328.70,207.26 329.20,207.20 329.70,207.30 330.20,207.22 330.70,207.33 331.20,207.28 331.70,207.23 332.20,207.18 332.70,207.24 333.20,207.35 333.70,207.26 334.20,207.32 334.70,207.24 335.20,207.22 335.70,207.19 336.20,207.09 336.70,207.27 337.20,207.25 337.70,207.24 338.20,207.31 338.70,207.17 339.20,207.38 339.70,207.13 340.20,207.27 340.70,207.15 341.20,207.23 341.70,207.34 342.20,207.13 342.70,207.27 343.20,207.26 343.70,207.27 344.20,207.27 344.70,207.32 345.20,207.29 345.70,207.28 346.20,207.32 346.70,207.31 347.20,207.24 347.70,207.16 348.20,207.32 348.70,207.23 349.20,207.39 349.70,207.21 350.20,207.16 350.70,207.35 351.20,207.20 351.70,207.14 352.20,207.35 352.70,207.14 353.20,207.36 353.70,207.18 354.20,207.29 354.70,207.27" fill="none" stroke="#1560e0" stroke-width="2.2" stroke-linejoin="round"/>
<polyline points="35.20,185.75 35.70,185.90 36.20,185.87 36.70,185.92 37.20,185.95 37.70,186.04 38.20,185.90 38.70,185.91 39.20,186.10 39.70,185.99 40.20,185.99 40.70,185.81 41.20,185.83 41.70,185.90 42.20,185.93 42.70,185.99 43.20,186.17 43.70,185.85 44.20,185.92 44.70,186.01 45.20,185.98 45.70,186.05 46.20,185.94 46.70,185.90 47.20,186.14 47.70,186.01 48.20,185.88 48.70,185.96 49.20,185.98 49.70,185.87 50.20,186.05 50.70,186.01 51.20,185.97 51.70,185.95 52.20,186.13 52.70,186.00 53.20,185.95 53.70,185.85 54.20,185.93 54.70,186.07 55.20,186.14 55.70,185.93 56.20,185.86 56.70,186.03 57.20,186.02 57.70,186.10 58.20,185.98 58.70,186.05 59.20,185.89 59.70,185.94 60.20,186.00 60.70,186.01 61.20,186.09 61.70,186.15 62.20,185.94 62.70,186.19 63.20,186.00 63.70,186.03 64.20,186.15 64.70,185.87 65.20,185.95 65.70,186.00 66.20,186.08 66.70,186.16 67.20,186.16 67.70,186.00 68.20,186.13 68.70,186.04 69.20,186.19 69.70,186.05 70.20,186.15 70.70,185.97 71.20,186.11 71.70,185.92 71.80,185.94 71.90,185.96 72.00,185.98 72.10,185.99 72.20,186.01 72.30,185.97 72.40,185.94 72.50,185.90 72.60,185.86 72.70,185.82 72.80,185.83 72.90,185.83 73.00,185.84 73.10,185.84 73.20,185.83 73.30,185.79 73.40,185.74 73.50,185.68 73.60,185.61 73.70,185.53 73.80,185.44 73.90,185.33 74.00,185.19 74.10,185.02 74.20,184.82 74.30,184.61 74.40,184.37 74.50,184.14 74.60,183.97 74.70,183.92 74.80,184.00 74.90,184.20 75.00,184.45 75.10,184.72 75.20,184.96 75.30,185.15 75.40,185.30 75.50,185.42 75.60,185.52 75.70,185.59 75.80,185.67 75.90,185.73 76.00,185.78 76.10,185.82 76.20,185.85 76.30,185.89 76.40,185.92 76.50,185.94 76.60,185.96 76.70,185.98 76.80,186.00 76.90,186.02 77.00,186.03 77.10,186.05 77.20,186.06 77.30,186.06 77.40,186.06 77.50,186.05 77.60,186.05 77.70,186.04 77.80,186.03 77.90,186.02 78.00,186.00 78.10,185.98 78.20,185.96 78.30,185.98 78.40,185.99 78.50,185.99 78.60,186.00 78.70,186.00 78.80,185.93 78.90,185.85 79.00,185.76 79.10,185.67 79.20,185.56 79.30,185.49 79.40,185.41 79.50,185.29 79.60,185.15 79.70,184.97 79.80,184.71 79.90,184.42 80.00,184.15 80.10,183.93 80.20,183.83 80.30,183.96 80.40,184.20 80.50,184.50 80.60,184.82 80.70,185.11 80.80,185.27 80.90,185.39 81.00,185.48 81.10,185.55 81.20,185.59 81.30,185.67 81.40,185.73 81.50,185.79 81.60,185.84 81.70,185.87 81.80,185.92 81.90,185.97 82.00,186.00 82.10,186.04 82.20,186.08 82.30,186.06 82.40,186.05 82.50,186.03 82.60,186.01 82.70,186.00 82.80,185.99 82.90,185.98 83.00,185.98 83.10,185.97 83.20,185.96 83.30,185.95 83.40,185.93 83.50,185.91 83.60,185.89 83.70,185.88 83.80,185.90 83.90,185.92 84.00,185.94 84.10,185.95 84.20,185.97 84.30,186.00 84.40,186.02 84.50,186.04 84.60,186.06 84.70,186.07 84.80,186.01 84.90,185.95 85.00,185.87 85.10,185.79 85.20,185.70 85.30,185.65 85.40,185.58 85.50,185.49 85.60,185.38 85.70,185.26 85.80,185.08 85.90,184.92 86.00,184.79 86.10,184.74 86.20,184.77 86.30,184.86 86.40,184.99 86.50,185.13 86.60,185.26 86.70,185.38 86.80,185.48 86.90,185.56 87.00,185.63 87.10,185.68 87.20,185.71 87.30,185.78 87.40,185.84 87.50,185.89 87.60,185.93 87.70,185.98 87.80,186.01 87.90,186.04 88.00,186.07 88.10,186.09 88.20,186.12 88.30,186.11 88.40,186.11 88.50,186.10 88.60,186.10 88.70,186.09 88.80,186.10 88.90,186.11 89.00,186.12 89.10,186.14 89.20,186.15 89.70,186.20 90.20,186.13 90.70,186.05 91.20,186.15 91.70,186.23 92.20,186.12 92.70,186.11 93.20,186.12 93.70,186.18 94.20,186.19 94.70,186.20 95.20,186.11 95.70,186.22 96.20,186.17 96.70,186.14 97.20,186.07 97.70,186.14 98.20,186.18 98.70,186.24 99.20,186.26 99.70,186.24 100.20,186.26 100.70,186.15 101.20,186.31 101.70,186.31 102.20,186.30 102.70,186.21 103.20,186.24 103.70,186.21 104.20,186.15 104.70,186.23 105.20,186.13 105.70,186.12 106.20,186.31 106.70,186.31 107.20,186.33 107.70,186.23 108.20,186.27 108.70,186.31 109.20,186.24 109.70,186.11 110.20,186.45 110.70,186.37 111.20,186.36 111.70,186.26 112.20,186.16 112.70,186.18 113.20,186.07 113.70,185.70 114.20,185.91 114.70,186.19 115.20,186.35 115.70,186.31 116.20,186.24 116.70,186.19 117.20,186.46 117.70,186.31 118.20,186.37 118.70,186.31 119.20,186.20 119.70,186.49 120.20,186.37 120.70,186.42 121.20,186.26 121.70,186.32 122.20,186.43 122.70,186.30 123.20,186.27 123.70,186.24 124.20,186.22 124.70,186.40 125.20,186.33 125.70,186.19 126.20,186.46 126.70,186.44 127.20,186.43 127.70,186.19 128.20,186.34 128.70,186.44 129.20,186.25 129.70,186.27 130.20,186.31 130.70,186.17 131.20,186.34 131.70,186.39 132.10,186.36 132.20,186.35 132.30,186.36 132.40,186.37 132.50,186.38 132.60,186.39 132.70,186.40 132.80,186.37 132.90,186.34 133.00,186.31 133.10,186.28 133.20,186.24 133.30,186.23 133.40,186.21 133.50,186.20 133.60,186.17 133.70,186.15 133.80,186.12 133.90,186.08 134.00,186.04 134.10,185.98 134.20,185.91 134.30,185.83 134.40,185.71 134.50,185.58 134.60,185.41 134.70,185.20 134.80,184.97 134.90,184.73 135.00,184.55 135.10,184.47 135.20,184.54 135.30,184.72 135.40,184.95 135.50,185.19 135.60,185.39 135.70,185.56 135.80,185.70 135.90,185.81 136.00,185.90 136.10,185.98 136.20,186.04 136.30,186.07 136.40,186.10 136.50,186.12 136.60,186.14 136.70,186.15 136.80,186.18 136.90,186.20 137.00,186.22 137.10,186.24 137.20,186.26 137.30,186.27 137.40,186.28 137.50,186.28 137.60,186.29 137.70,186.29 137.80,186.30 137.90,186.32 138.00,186.33 138.10,186.34 138.20,186.35 138.70,186.27 139.20,186.15 139.70,186.24 140.20,186.47 140.70,186.37 141.20,186.27 141.70,186.28 142.20,186.28 142.70,186.23 143.20,186.26 143.30,186.26 143.40,186.26 143.50,186.26 143.60,186.26 143.70,186.26 143.80,186.26 143.90,186.26 144.00,186.26 144.10,186.25 144.20,186.25 144.30,186.21 144.40,186.16 144.50,186.12 144.60,186.07 144.70,186.02 144.80,185.99 144.90,185.96 145.00,185.92 145.10,185.87 145.20,185.82 145.30,185.74 145.40,185.66 145.50,185.55 145.60,185.41 145.70,185.25 145.80,185.04 145.90,184.80 146.00,184.52 146.10,184.23 146.20,184.01 146.30,183.92 146.40,184.01 146.50,184.23 146.60,184.51 146.70,184.78 146.80,184.98 146.90,185.12 147.00,185.23 147.10,185.30 147.20,185.34 147.30,185.44 147.40,185.52 147.50,185.58 147.60,185.63 147.70,185.66 147.80,185.62 147.90,185.56 148.00,185.49 148.10,185.41 148.20,185.32 148.30,185.26 148.40,185.17 148.50,185.08 148.60,184.96 148.70,184.81 148.80,184.58 148.90,184.28 149.00,183.86 149.10,183.26 149.20,182.32 149.30,180.91 149.40,178.71 149.50,175.38 149.60,170.60 149.70,164.09 149.80,155.78 149.90,145.93 150.00,135.17 150.10,124.58 150.20,115.49 150.30,109.31 150.40,107.12 150.50,109.33 150.60,115.53 150.70,124.63 150.80,135.19 150.90,145.91 151.00,155.74 151.10,164.01 151.20,170.50 151.30,175.33 151.40,178.71 151.50,180.97 151.60,182.44 151.70,183.38 151.80,183.93 151.90,184.28 152.00,184.52 152.10,184.69 152.20,184.82 152.30,184.99 152.40,185.14 152.50,185.28 152.60,185.40 152.70,185.51 152.80,185.59 152.90,185.66 153.00,185.73 153.10,185.79 153.20,185.84 153.30,185.86 153.40,185.88 153.70,185.92 154.20,186.02 154.70,186.08 155.20,186.12 155.70,186.18 156.20,186.23 156.30,186.23 156.40,186.22 156.50,186.21 156.60,186.20 156.70,186.19 156.80,186.20 156.90,186.20 157.00,186.21 157.10,186.21 157.20,186.21 157.30,186.17 157.40,186.12 157.50,186.08 157.60,186.02 157.70,185.97 157.80,185.92 157.90,185.86 158.00,185.79 158.10,185.71 158.20,185.62 158.30,185.52 158.40,185.39 158.50,185.23 158.60,185.04 158.70,184.79 158.80,184.49 158.90,184.13 159.00,183.74 159.10,183.37 159.20,183.08 159.30,182.99 159.40,183.10 159.50,183.37 159.60,183.74 159.70,184.12 159.80,184.44 159.90,184.72 160.00,184.94 160.10,185.12 160.20,185.26 160.30,185.40 160.40,185.52 160.50,185.61 160.60,185.69 160.70,185.75 160.80,185.73 160.90,185.70 161.00,185.65 161.10,185.58 161.20,185.49 161.30,185.41 161.40,185.30 161.50,185.16 161.60,184.97 161.70,184.73 161.80,184.36 161.90,183.96 162.00,183.57 162.10,183.27 162.20,183.12 162.30,183.25 162.40,183.55 162.50,183.92 162.60,184.31 162.70,184.67 162.80,184.96 162.90,185.19 163.00,185.39 163.10,185.54 163.20,185.67 163.30,185.75 163.40,185.82 163.50,185.87 163.60,185.90 163.70,185.93 163.80,185.94 163.90,185.95 164.00,185.95 164.10,185.94 164.20,185.93 164.30,185.93 164.40,185.92 164.50,185.91 164.60,185.88 164.70,185.84 164.80,185.77 164.90,185.69 165.00,185.59 165.10,185.48 165.20,185.35 165.30,185.24 165.40,185.16 165.50,185.13 165.60,185.17 165.70,185.27 165.80,185.39 165.90,185.53 166.00,185.66 166.10,185.77 166.20,185.87 166.30,185.96 166.40,186.03 166.50,186.10 166.60,186.15 166.70,186.20 166.80,186.22 166.90,186.24 167.00,186.25 167.10,186.25 167.20,186.26 167.30,186.27 167.40,186.29 167.50,186.30 167.60,186.31 167.70,186.32 167.80,186.32 167.90,186.32 168.00,186.32 168.10,186.32 168.20,186.32 168.30,186.33 168.40,186.35 168.50,186.35 168.70,186.37 169.20,186.28 169.70,186.38 170.20,186.30 170.70,186.38 171.20,186.23 171.70,186.23 172.20,186.15 172.30,186.11 172.40,186.08 172.50,186.04 172.60,186.00 172.70,185.96 172.80,185.96 172.90,185.95 173.00,185.94 173.10,185.93 173.20,185.91 173.30,185.84 173.40,185.76 173.50,185.66 173.60,185.55 173.70,185.42 173.80,185.25 173.90,185.01 174.00,184.65 174.10,184.10 174.20,183.23 174.30,181.90 174.40,179.89 174.50,177.00 174.60,173.07 174.70,168.04 174.80,162.03 174.90,155.48 175.00,149.02 175.10,143.48 175.20,139.70 175.30,138.37 175.40,139.71 175.50,143.47 175.60,149.00 175.70,155.43 175.80,161.98 175.90,167.98 176.00,173.05 176.10,177.02 176.20,179.95 176.30,182.00 176.40,183.37 176.50,184.25 176.60,184.83 176.70,185.20 176.80,185.40 176.90,185.53 177.00,185.61 177.10,185.68 177.20,185.72 177.30,185.82 177.40,185.91 177.50,185.99 177.60,186.06 177.70,186.13 177.80,186.14 177.90,186.15 178.00,186.16 178.10,186.16 178.20,186.17 178.30,186.17 178.70,186.19 179.20,186.35 179.70,186.45 180.20,186.40 180.70,186.45 181.20,186.34 181.70,186.26 182.20,186.48 182.70,186.35 183.20,186.47 183.70,186.43 184.20,186.50 184.70,186.56 185.20,186.36 185.70,186.48 186.20,186.49 186.70,186.61 187.20,186.51 187.70,186.44 188.20,186.47 188.70,186.66 189.20,186.45 189.70,186.52 190.20,186.54 190.70,186.43 191.20,186.46 191.70,186.37 192.20,186.46 192.70,186.59 193.20,186.55 193.70,186.39 194.20,186.65 194.70,186.44 195.20,186.47 195.70,186.67 196.20,186.58 196.70,186.54 197.20,186.67 197.70,186.54 198.20,186.58 198.70,186.51 199.20,186.55 199.70,186.55 200.20,186.65 200.70,186.51 201.20,186.54 201.70,186.39 202.20,186.43 202.70,186.62 203.20,186.53 203.70,186.54 204.20,186.62 204.70,186.54 205.20,186.58 205.70,186.55 206.20,186.41 206.70,186.62 207.20,186.69 207.70,186.67 208.20,186.58 208.70,186.60 209.20,186.61 209.70,186.70 210.20,186.68 210.70,186.55 211.20,186.57 211.70,186.57 212.20,186.54 212.70,186.54 213.20,186.58 213.70,186.39 214.20,186.62 214.70,186.55 215.20,186.49 215.70,186.57 216.20,186.53 216.70,186.69 217.20,186.50 217.70,186.60 218.20,186.62 218.70,186.53 219.20,186.50 219.70,186.63 220.20,186.57 220.70,186.52 221.20,186.49 221.70,186.65 222.20,186.72 222.70,186.56 223.20,186.65 223.70,186.69 224.20,186.69 224.70,186.56 225.20,186.65 225.70,186.66 226.20,186.81 226.70,186.63 227.20,186.70 227.70,186.68 228.20,186.67 228.70,186.54 229.20,186.64 229.70,186.74 230.20,186.59 230.70,186.64 231.20,186.56 231.70,186.65 232.20,186.65 232.70,186.68 233.20,186.60 233.70,186.60 234.20,186.59 234.70,186.65 235.20,186.65 235.70,186.81 236.20,186.58 236.70,186.69 237.20,186.59 237.70,186.60 238.20,186.72 238.70,186.67 239.20,186.68 239.70,186.53 240.20,186.84 240.70,186.80 241.20,186.58 241.70,186.54 242.20,186.58 242.70,186.66 243.20,186.57 243.70,186.66 244.20,186.59 244.70,186.85 245.20,186.62 245.70,186.60 246.20,186.79 246.70,186.66 247.20,186.64 247.70,186.63 248.20,186.68 248.70,186.60 249.20,186.64 249.70,186.58 250.20,186.52 250.70,186.59 251.20,186.62 251.70,186.72 252.20,186.60 252.70,186.53 253.20,186.54 253.70,186.53 253.80,186.48 253.90,186.42 254.00,186.36 254.10,186.30 254.20,186.24 254.30,186.25 254.40,186.25 254.50,186.25 254.60,186.25 254.70,186.25 254.80,186.18 254.90,186.11 255.00,186.03 255.10,185.93 255.20,185.82 255.30,185.70 255.40,185.51 255.50,185.22 255.60,184.76 255.70,184.04 255.80,182.95 255.90,181.39 256.00,179.26 256.10,176.54 256.20,173.32 256.30,169.79 256.40,166.31 256.50,163.33 256.60,161.30 256.70,160.59 256.80,161.32 256.90,163.36 257.00,166.35 257.10,169.84 257.20,173.38 257.30,176.62 257.40,179.36 257.50,181.51 257.60,183.08 257.70,184.18 257.80,184.93 257.90,185.42 258.00,185.74 258.10,185.95 258.20,186.09 258.30,186.17 258.40,186.22 258.50,186.26 258.60,186.30 258.70,186.32 258.80,186.35 258.90,186.38 259.00,186.41 259.10,186.43 259.20,186.45 259.30,186.46 259.40,186.46 259.50,186.47 259.60,186.47 259.70,186.47 260.20,186.69 260.70,186.67 261.20,186.55 261.70,186.57 262.20,186.69 262.70,186.71 263.20,186.62 263.70,186.74 264.20,186.56 264.70,186.65 265.20,186.74 265.70,186.62 266.20,186.68 266.70,186.67 267.20,186.65 267.70,186.53 268.20,186.65 268.70,186.69 269.20,186.70 269.70,186.74 270.20,186.76 270.70,186.66 271.20,186.67 271.70,186.82 272.20,186.76 272.70,186.69 273.20,186.68 273.70,186.78 274.20,186.78 274.70,186.69 275.20,186.73 275.70,186.70 276.20,186.70 276.70,186.84 277.20,186.60 277.70,186.76 278.20,186.62 278.70,186.65 279.20,186.77 279.70,186.60 280.20,186.63 280.70,186.62 281.20,186.66 281.70,186.73 282.20,186.80 282.70,186.66 283.20,186.78 283.70,186.61 284.20,186.87 284.70,186.67 285.20,186.67 285.70,186.73 286.20,186.72 286.70,186.70 287.20,186.58 287.70,186.78 288.20,186.77 288.70,186.68 289.20,186.62 289.70,186.73 290.20,186.80 290.70,186.58 291.20,186.62 291.70,186.72 292.20,186.65 292.70,186.69 293.20,186.71 293.70,186.77 294.20,186.77 294.70,186.79 295.20,186.79 295.70,186.67 296.20,186.53 296.70,186.74 297.20,186.75 297.70,186.75 298.20,186.66 298.70,186.86 299.20,186.58 299.70,186.78 300.20,186.76 300.70,186.79 301.20,186.82 301.70,186.75 302.20,186.74 302.70,186.68 303.20,186.76 303.70,186.73 304.20,186.76 304.70,186.60 305.20,186.56 305.70,186.67 306.20,186.69 306.70,186.50 306.80,186.50 306.90,186.50 307.00,186.50 307.10,186.50 307.20,186.50 307.30,186.50 307.40,186.49 307.50,186.49 307.60,186.48 307.70,186.47 307.80,186.46 307.90,186.44 308.00,186.42 308.10,186.40 308.20,186.36 308.30,186.30 308.40,186.22 308.50,186.09 308.60,185.90 308.70,185.58 308.80,185.11 308.90,184.39 309.00,183.35 309.10,181.94 309.20,180.13 309.30,177.95 309.40,175.58 309.50,173.25 309.60,171.24 309.70,169.87 309.80,169.39 309.90,169.88 310.00,171.25 310.10,173.25 310.20,175.58 310.30,177.94 310.40,180.11 310.50,181.94 310.60,183.38 310.70,184.45 310.80,185.15 310.90,185.61 311.00,185.90 311.10,186.08 311.20,186.18 311.30,186.30 311.40,186.40 311.50,186.49 311.60,186.56 311.70,186.63 311.80,186.62 311.90,186.60 312.00,186.58 312.10,186.55 312.20,186.53 312.30,186.55 312.40,186.57 312.50,186.59 312.60,186.61 312.70,186.62 312.80,186.60 313.20,186.50 313.70,186.66 314.20,186.64 314.70,186.65 315.20,186.73 315.70,186.62 316.20,186.73 316.70,186.56 317.20,186.68 317.70,186.83 318.20,186.74 318.70,186.78 319.20,186.66 319.70,186.63 320.20,186.84 320.70,186.81 321.20,186.80 321.70,186.73 322.20,186.82 322.70,186.69 323.20,186.77 323.70,186.76 323.90,186.71 324.00,186.68 324.10,186.66 324.20,186.63 324.30,186.66 324.40,186.69 324.50,186.73 324.60,186.76 324.70,186.79 324.80,186.76 324.90,186.73 325.00,186.70 325.10,186.67 325.20,186.64 325.30,186.64 325.40,186.63 325.50,186.61 325.60,186.58 325.70,186.52 325.80,186.38 325.90,186.18 326.00,185.90 326.10,185.51 326.20,184.99 326.30,184.38 326.40,183.66 326.50,182.87 326.60,182.09 326.70,181.42 326.80,180.98 326.90,180.83 327.00,181.00 327.10,181.47 327.20,182.16 327.30,182.95 327.40,183.76 327.50,184.51 327.60,185.14 327.70,185.63 327.80,186.00 327.90,186.25 328.00,186.43 328.10,186.54 328.20,186.62 328.30,186.65 328.40,186.67 328.50,186.68 328.60,186.68 328.70,186.68 328.80,186.68 328.90,186.68 329.00,186.68 329.10,186.68 329.20,186.68 329.30,186.70 329.40,186.71 329.50,186.73 329.60,186.74 329.70,186.76 329.80,186.75 329.90,186.74 330.20,186.71 330.70,186.75 331.20,186.77 331.70,186.69 332.20,186.78 332.70,186.64 333.20,186.69 333.70,186.80 334.20,186.70 334.70,186.79 335.20,186.77 335.70,186.74 336.20,186.88 336.70,186.80 337.20,186.72 337.70,186.72 338.20,186.77 338.70,186.65 339.20,186.85 339.70,186.76 340.20,186.63 340.70,186.69 341.20,186.88 341.70,186.78 342.20,186.94 342.70,186.77 343.20,186.81 343.70,186.92 344.20,186.94 344.70,186.70 345.20,186.84 345.70,186.69 346.20,186.74 346.70,186.64 347.20,186.82 347.70,186.69 348.20,186.71 348.70,186.92 349.20,186.84 349.70,186.76 350.20,186.63 350.70,186.80 351.20,186.60 351.70,186.71 352.20,186.83 352.70,186.84 353.20,186.79 353.70,186.84 354.20,186.79 354.70,186.72" fill="none" stroke="#22a860" stroke-width="2.2" stroke-linejoin="round"/>
<polyline points="35.20,164.60 35.70,164.74 36.20,164.60 36.70,164.63 37.20,164.65 37.70,164.50 38.20,164.53 38.70,164.50 39.20,164.65 39.70,164.59 40.20,164.53 40.70,164.53 41.20,164.69 41.70,164.70 42.20,164.67 42.70,164.64 43.20,164.68 43.70,164.64 44.20,164.67 44.70,164.62 45.20,164.57 45.70,164.59 46.20,164.67 46.70,164.79 47.20,164.59 47.70,164.57 48.20,164.72 48.70,164.72 49.20,164.61 49.70,164.62 50.20,164.62 50.70,164.70 51.20,164.92 51.70,164.62 52.20,164.70 52.70,164.64 53.20,164.69 53.70,164.72 54.20,164.71 54.70,164.61 55.20,164.61 55.70,164.77 56.20,164.72 56.70,164.71 57.20,164.74 57.70,164.64 58.20,164.79 58.70,164.64 59.20,164.62 59.70,164.63 60.20,164.70 60.70,164.91 61.20,164.71 61.70,164.73 62.20,164.83 62.70,164.68 63.20,164.60 63.70,164.66 64.20,164.68 64.70,164.59 65.20,164.69 65.70,164.72 66.20,164.87 66.70,164.77 67.20,164.72 67.70,164.67 68.20,164.64 68.70,164.55 69.20,164.67 69.40,164.60 69.50,164.56 69.60,164.52 69.70,164.48 69.80,164.51 69.90,164.54 70.00,164.56 70.10,164.59 70.20,164.61 70.30,164.63 70.40,164.65 70.50,164.66 70.60,164.68 70.70,164.69 70.80,164.63 70.90,164.58 71.00,164.52 71.10,164.45 71.20,164.38 71.30,164.34 71.40,164.30 71.50,164.23 71.60,164.15 71.70,164.05 71.80,163.89 71.90,163.70 72.00,163.48 72.10,163.24 72.20,163.01 72.30,162.84 72.40,162.76 72.50,162.81 72.60,162.95 72.70,163.14 72.80,163.39 72.90,163.63 73.00,163.83 73.10,164.00 73.20,164.15 73.30,164.23 73.40,164.30 73.50,164.35 73.60,164.39 73.70,164.42 73.80,164.46 73.90,164.50 74.00,164.53 74.10,164.56 74.20,164.59 74.30,164.60 74.40,164.61 74.50,164.61 74.60,164.61 74.70,164.61 74.80,164.62 74.90,164.63 75.00,164.64 75.10,164.65 75.20,164.66 75.30,164.64 75.40,164.62 75.50,164.60 75.60,164.58 75.70,164.56 75.80,164.57 75.90,164.58 76.00,164.58 76.10,164.59 76.20,164.59 76.30,164.57 76.40,164.56 76.50,164.54 76.60,164.52 76.70,164.48 76.80,164.41 76.90,164.33 77.00,164.23 77.10,164.12 77.20,163.98 77.30,163.84 77.40,163.68 77.50,163.48 77.60,163.27 77.70,163.06 77.80,162.93 77.90,162.89 78.00,162.97 78.10,163.15 78.20,163.38 78.30,163.59 78.40,163.78 78.50,163.95 78.60,164.08 78.70,164.18 78.80,164.26 78.90,164.33 79.00,164.38 79.10,164.41 79.20,164.44 79.30,164.46 79.40,164.46 79.50,164.47 79.60,164.47 79.70,164.46 79.80,164.50 79.90,164.53 80.00,164.56 80.10,164.59 80.20,164.61 80.30,164.65 80.40,164.68 80.50,164.71 80.60,164.75 80.70,164.78 80.80,164.75 80.90,164.72 81.00,164.69 81.10,164.66 81.20,164.63 81.30,164.63 81.40,164.63 81.50,164.63 81.60,164.63 81.70,164.63 81.80,164.61 81.90,164.59 82.00,164.57 82.10,164.55 82.20,164.52 82.30,164.52 82.40,164.51 82.50,164.50 82.60,164.48 82.70,164.46 82.80,164.42 82.90,164.36 83.00,164.30 83.10,164.22 83.20,164.13 83.30,164.02 83.40,163.89 83.50,163.76 83.60,163.64 83.70,163.55 83.80,163.50 83.90,163.53 84.00,163.60 84.10,163.72 84.20,163.84 84.30,163.97 84.40,164.07 84.50,164.16 84.60,164.24 84.70,164.30 84.80,164.41 84.90,164.50 85.00,164.59 85.10,164.67 85.20,164.75 85.30,164.74 85.40,164.73 85.50,164.72 85.60,164.70 85.70,164.68 85.80,164.68 85.90,164.67 86.00,164.66 86.10,164.66 86.20,164.65 86.30,164.66 86.40,164.68 86.50,164.69 86.60,164.71 86.70,164.73 86.80,164.74 87.20,164.79 87.70,164.85 88.20,164.80 88.70,164.75 89.20,164.83 89.70,164.68 90.20,164.72 90.70,164.89 91.20,164.82 91.70,164.80 92.20,164.76 92.70,164.72 93.20,164.83 93.70,164.82 94.20,164.95 94.70,164.75 95.20,164.82 95.70,164.79 96.20,164.75 96.70,164.96 97.20,164.93 97.70,164.84 98.20,164.72 98.70,164.85 99.20,164.87 99.70,164.78 100.20,164.71 100.70,164.97 101.20,164.73 101.70,164.92 102.20,164.78 102.70,164.81 103.20,164.92 103.70,164.75 104.20,164.81 104.70,164.84 105.20,164.93 105.70,164.92 106.20,164.85 106.70,164.74 107.20,164.93 107.70,164.81 108.20,164.86 108.70,164.69 109.20,164.81 109.70,164.85 110.20,164.75 110.70,164.75 111.20,164.62 111.70,164.60 112.20,164.64 112.70,164.65 113.20,164.62 113.70,164.81 114.20,164.71 114.70,164.88 115.20,164.69 115.70,164.94 116.20,164.86 116.70,164.73 117.20,164.88 117.70,164.91 118.20,164.91 118.70,164.86 119.20,164.91 119.70,164.91 120.20,164.84 120.70,164.87 121.20,164.76 121.70,164.93 122.20,164.76 122.70,164.85 123.20,164.77 123.70,164.94 124.20,164.88 124.70,164.78 125.20,164.88 125.70,164.84 126.20,164.91 126.70,164.86 127.20,164.85 127.70,164.84 128.20,164.72 128.70,164.88 129.20,164.90 129.70,164.75 129.80,164.77 129.90,164.79 130.00,164.81 130.10,164.83 130.20,164.85 130.30,164.86 130.40,164.86 130.50,164.87 130.60,164.87 130.70,164.87 130.80,164.86 130.90,164.85 131.00,164.83 131.10,164.82 131.20,164.80 131.30,164.79 131.40,164.77 131.50,164.76 131.60,164.73 131.70,164.70 131.80,164.65 131.90,164.59 132.00,164.52 132.10,164.42 132.20,164.31 132.30,164.15 132.40,163.96 132.50,163.74 132.60,163.53 132.70,163.36 132.80,163.34 132.90,163.44 133.00,163.63 133.10,163.86 133.20,164.10 133.30,164.23 133.40,164.34 133.50,164.41 133.60,164.47 133.70,164.50 133.80,164.55 133.90,164.58 134.00,164.61 134.10,164.62 134.20,164.64 134.30,164.69 134.40,164.74 134.50,164.78 134.60,164.83 134.70,164.87 134.80,164.84 134.90,164.82 135.00,164.79 135.10,164.76 135.20,164.73 135.30,164.76 135.40,164.79 135.50,164.82 135.60,164.84 135.70,164.87 135.80,164.85 136.20,164.75 136.70,164.90 137.20,164.91 137.70,164.77 138.20,164.85 138.70,164.85 139.20,164.77 139.70,164.80 140.20,164.73 140.70,164.66 141.00,164.62 141.10,164.61 141.20,164.60 141.30,164.61 141.40,164.62 141.50,164.63 141.60,164.64 141.70,164.64 141.80,164.63 141.90,164.62 142.00,164.61 142.10,164.59 142.20,164.58 142.30,164.56 142.40,164.54 142.50,164.51 142.60,164.48 142.70,164.45 142.80,164.39 142.90,164.33 143.00,164.26 143.10,164.18 143.20,164.07 143.30,163.96 143.40,163.81 143.50,163.63 143.60,163.41 143.70,163.16 143.80,162.88 143.90,162.66 144.00,162.55 144.10,162.58 144.20,162.72 144.30,162.96 144.40,163.20 144.50,163.40 144.60,163.57 144.70,163.70 144.80,163.72 144.90,163.72 145.00,163.69 145.10,163.65 145.20,163.59 145.30,163.58 145.40,163.56 145.50,163.53 145.60,163.48 145.70,163.41 145.80,163.30 145.90,163.16 146.00,163.01 146.10,162.83 146.20,162.63 146.30,162.40 146.40,162.13 146.50,161.78 146.60,161.32 146.70,160.67 146.80,159.73 146.90,158.25 147.00,155.88 147.10,152.17 147.20,146.58 147.30,138.45 147.40,127.42 147.50,113.37 147.60,96.70 147.70,78.52 147.80,60.59 147.90,45.21 148.00,34.73 148.10,30.99 148.20,34.68 148.30,45.16 148.40,60.54 148.50,78.47 148.60,96.65 148.70,113.32 148.80,127.34 148.90,138.34 149.00,146.43 149.10,152.05 149.20,155.79 149.30,158.23 149.40,159.80 149.50,160.81 149.60,161.50 149.70,162.00 149.80,162.31 149.90,162.54 150.00,162.73 150.10,162.89 150.20,163.02 150.30,163.18 150.40,163.33 150.50,163.46 150.60,163.58 150.70,163.69 150.80,163.76 150.90,163.83 151.00,163.89 151.10,163.94 151.20,163.98 151.70,164.19 152.20,164.44 152.70,164.56 153.20,164.63 153.70,164.56 154.00,164.55 154.10,164.54 154.20,164.53 154.30,164.55 154.40,164.57 154.50,164.58 154.60,164.59 154.70,164.60 154.80,164.58 154.90,164.56 155.00,164.53 155.10,164.50 155.20,164.47 155.30,164.47 155.40,164.48 155.50,164.48 155.60,164.47 155.70,164.45 155.80,164.35 155.90,164.23 156.00,164.10 156.10,163.94 156.20,163.76 156.30,163.63 156.40,163.45 156.50,163.23 156.60,162.97 156.70,162.68 156.80,162.35 156.90,162.09 157.00,161.97 157.10,162.03 157.20,162.23 157.30,162.53 157.40,162.84 157.50,163.13 157.60,163.37 157.70,163.57 157.80,163.71 157.90,163.82 158.00,163.90 158.10,163.96 158.20,164.00 158.30,164.04 158.40,164.06 158.50,164.07 158.60,164.06 158.70,164.04 158.80,164.03 158.90,164.00 159.00,163.94 159.10,163.86 159.20,163.75 159.30,163.55 159.40,163.31 159.50,163.03 159.60,162.72 159.70,162.43 159.80,162.21 159.90,162.13 160.00,162.21 160.10,162.42 160.20,162.71 160.30,163.01 160.40,163.28 160.50,163.51 160.60,163.70 160.70,163.85 160.80,163.98 160.90,164.08 161.00,164.17 161.10,164.24 161.20,164.29 161.30,164.34 161.40,164.38 161.50,164.41 161.60,164.43 161.70,164.45 161.80,164.48 161.90,164.50 162.00,164.51 162.10,164.51 162.20,164.51 162.30,164.47 162.40,164.41 162.50,164.34 162.60,164.26 162.70,164.16 162.80,164.06 162.90,163.96 163.00,163.86 163.10,163.79 163.20,163.77 163.30,163.80 163.40,163.88 163.50,163.98 163.60,164.09 163.70,164.20 163.80,164.31 163.90,164.40 164.00,164.48 164.10,164.55 164.20,164.61 164.30,164.62 164.40,164.63 164.50,164.63 164.60,164.62 164.70,164.62 164.80,164.65 164.90,164.68 165.00,164.72 165.10,164.75 165.20,164.77 165.30,164.76 165.40,164.74 165.50,164.73 165.60,164.71 165.70,164.69 165.80,164.69 165.90,164.70 166.00,164.70 166.10,164.71 166.20,164.71 166.70,164.84 167.20,164.79 167.70,164.76 168.20,164.68 168.70,164.76 169.20,164.85 169.70,164.66 170.00,164.60 170.10,164.57 170.20,164.55 170.30,164.50 170.40,164.46 170.50,164.41 170.60,164.36 170.70,164.30 170.80,164.27 170.90,164.23 171.00,164.18 171.10,164.12 171.20,164.05 171.30,163.91 171.40,163.75 171.50,163.54 171.60,163.25 171.70,162.83 171.80,162.26 171.90,161.34 172.00,159.88 172.10,157.66 172.20,154.44 172.30,149.95 172.40,144.24 172.50,137.47 172.60,130.09 172.70,122.82 172.80,116.62 172.90,112.39 173.00,110.89 173.10,112.38 173.20,116.61 173.30,122.83 173.40,130.08 173.50,137.43 173.60,144.18 173.70,149.87 173.80,154.28 173.90,157.51 174.00,159.75 174.10,161.23 174.20,162.17 174.30,162.79 174.40,163.19 174.50,163.47 174.60,163.66 174.70,163.81 174.80,163.92 174.90,164.01 175.00,164.09 175.10,164.16 175.20,164.22 175.30,164.28 175.40,164.34 175.50,164.39 175.60,164.44 175.70,164.48 175.80,164.54 175.90,164.60 176.00,164.66 176.20,164.76 176.70,164.63 177.20,164.96 177.70,164.88 178.20,164.96 178.70,164.87 179.20,164.75 179.70,164.79 180.20,165.00 180.70,164.88 181.20,164.94 181.70,164.95 182.20,165.04 182.70,165.04 183.20,164.97 183.70,164.95 184.20,165.02 184.70,164.87 185.20,164.90 185.70,164.85 186.20,164.89 186.70,164.84 187.20,165.03 187.70,164.94 188.20,165.10 188.70,164.94 189.20,164.99 189.70,164.93 190.20,165.03 190.70,165.02 191.20,164.95 191.70,165.00 192.20,164.92 192.70,164.93 193.20,164.90 193.70,165.05 194.20,164.91 194.70,164.89 195.20,165.05 195.70,164.97 196.20,164.87 196.70,164.89 197.20,164.93 197.70,164.89 198.20,164.97 198.70,164.89 199.20,164.89 199.70,165.04 200.20,165.11 200.70,165.09 201.20,164.95 201.70,165.02 202.20,164.97 202.70,165.12 203.20,165.01 203.70,165.02 204.20,165.13 204.70,165.08 205.20,165.00 205.70,164.91 206.20,164.96 206.70,164.88 207.20,165.12 207.70,164.98 208.20,165.05 208.70,165.01 209.20,164.94 209.70,165.02 210.20,165.02 210.70,164.99 211.20,164.99 211.70,165.02 212.20,164.92 212.70,164.99 213.20,164.96 213.70,164.94 214.20,165.01 214.70,164.83 215.20,164.89 215.70,164.98 216.20,165.12 216.70,165.04 217.20,164.94 217.70,165.11 218.20,165.01 218.70,164.95 219.20,164.99 219.70,165.12 220.20,165.06 220.70,164.94 221.20,164.92 221.70,165.05 222.20,164.91 222.70,164.96 223.20,165.06 223.70,164.92 224.20,164.94 224.70,165.02 225.20,164.98 225.70,165.10 226.20,165.00 226.70,165.05 227.20,165.05 227.70,164.96 228.20,165.07 228.70,165.11 229.20,164.99 229.70,164.96 230.20,164.98 230.70,165.11 231.20,165.00 231.70,164.97 232.20,164.91 232.70,165.00 233.20,164.90 233.70,165.08 234.20,164.94 234.70,164.91 235.20,165.08 235.70,165.03 236.20,165.04 236.70,164.93 237.20,165.06 237.70,165.03 238.20,165.02 238.70,165.07 239.20,165.09 239.70,165.00 240.20,165.13 240.70,165.05 241.20,165.00 241.70,165.05 242.20,165.02 242.70,165.12 243.20,165.02 243.70,164.99 244.20,165.00 244.70,165.06 245.20,164.88 245.70,164.90 246.20,164.98 246.70,165.03 247.20,165.04 247.70,164.96 248.20,164.86 248.70,164.81 249.20,164.96 249.70,164.93 250.20,164.97 250.70,165.01 251.20,164.84 251.70,164.98 251.80,164.94 251.90,164.90 252.00,164.87 252.10,164.82 252.20,164.78 252.30,164.77 252.40,164.76 252.50,164.74 252.60,164.72 252.70,164.70 252.80,164.68 252.90,164.65 253.00,164.61 253.10,164.56 253.20,164.50 253.30,164.37 253.40,164.19 253.50,163.93 253.60,163.53 253.70,162.94 253.80,162.16 253.90,161.01 254.00,159.42 254.10,157.37 254.20,154.94 254.30,152.16 254.40,149.43 254.50,147.08 254.60,145.47 254.70,144.87 254.80,145.45 254.90,147.04 255.00,149.37 255.10,152.09 255.20,154.84 255.30,157.31 255.40,159.40 255.50,161.02 255.60,162.21 255.70,163.03 255.80,163.58 255.90,163.93 256.00,164.15 256.10,164.28 256.20,164.36 256.30,164.44 256.40,164.50 256.50,164.55 256.60,164.60 256.70,164.63 256.80,164.66 256.90,164.68 257.00,164.70 257.10,164.72 257.20,164.73 257.30,164.73 257.40,164.73 257.50,164.73 257.60,164.73 257.70,164.73 258.20,164.71 258.70,164.99 259.20,164.90 259.70,164.97 260.20,165.07 260.70,164.94 261.20,164.99 261.70,165.07 262.20,165.02 262.70,165.01 263.20,164.92 263.70,164.93 264.20,165.06 264.70,164.98 265.20,165.07 265.70,165.06 266.20,165.04 266.70,165.06 267.20,165.03 267.70,165.10 268.20,164.85 268.70,164.96 269.20,165.04 269.70,165.14 270.20,164.88 270.70,164.97 271.20,165.05 271.70,165.12 272.20,164.98 272.70,164.86 273.20,165.04 273.70,165.08 274.20,165.05 274.70,165.05 275.20,165.07 275.70,164.96 276.20,165.06 276.70,165.08 277.20,165.02 277.70,164.95 278.20,164.97 278.70,165.07 279.20,164.97 279.70,165.12 280.20,165.04 280.70,165.00 281.20,165.09 281.70,165.02 282.20,165.19 282.70,165.13 283.20,164.96 283.70,164.99 284.20,164.87 284.70,165.08 285.20,165.05 285.70,165.04 286.20,164.91 286.70,165.14 287.20,165.12 287.70,164.99 288.20,164.97 288.70,164.98 289.20,165.08 289.70,165.05 290.20,165.01 290.70,165.00 291.20,164.91 291.70,164.97 292.20,164.88 292.70,165.09 293.20,165.01 293.70,165.01 294.20,164.98 294.70,164.93 295.20,164.85 295.70,164.94 296.20,164.97 296.70,164.97 297.20,165.07 297.70,165.07 298.20,164.92 298.70,164.93 299.20,165.07 299.70,164.82 300.20,164.96 300.70,165.04 301.20,164.99 301.70,164.93 302.20,165.01 302.70,164.89 303.20,164.86 303.70,164.91 304.20,164.84 304.40,164.84 304.50,164.83 304.60,164.83 304.70,164.82 304.80,164.82 304.90,164.80 305.00,164.79 305.10,164.78 305.20,164.76 305.30,164.73 305.40,164.69 305.50,164.65 305.60,164.60 305.70,164.55 305.80,164.41 305.90,164.26 306.00,164.06 306.10,163.78 306.20,163.40 306.30,162.92 306.40,162.15 306.50,160.98 306.60,159.27 306.70,156.93 306.80,153.90 306.90,150.30 307.00,146.38 307.10,142.51 307.20,139.20 307.30,136.94 307.40,136.14 307.50,136.95 307.60,139.22 307.70,142.54 307.80,146.39 307.90,150.30 308.00,153.88 308.10,156.90 308.20,159.26 308.30,161.01 308.40,162.23 308.50,163.04 308.60,163.56 308.70,163.89 308.80,164.11 308.90,164.26 309.00,164.37 309.10,164.46 309.20,164.53 309.30,164.56 309.40,164.59 309.50,164.61 309.60,164.62 309.70,164.63 309.80,164.64 309.90,164.65 310.00,164.66 310.10,164.66 310.20,164.67 310.30,164.72 310.40,164.77 310.70,164.91 311.20,164.95 311.70,164.83 312.20,165.03 312.70,164.89 313.20,165.00 313.70,164.88 314.20,164.98 314.70,164.93 315.20,164.95 315.70,165.02 316.20,165.04 316.70,164.92 317.20,165.12 317.70,164.93 318.20,164.87 318.70,164.97 319.20,165.14 319.70,164.95 320.20,164.88 320.70,164.92 321.20,164.99 321.40,164.99 321.50,164.99 321.60,164.99 321.70,164.99 321.80,164.98 321.90,164.98 322.00,164.97 322.10,164.96 322.20,164.95 322.30,164.95 322.40,164.95 322.50,164.94 322.60,164.94 322.70,164.93 322.80,164.92 322.90,164.91 323.00,164.88 323.10,164.83 323.20,164.75 323.30,164.57 323.40,164.29 323.50,163.90 323.60,163.35 323.70,162.61 323.80,161.71 323.90,160.64 324.00,159.47 324.10,158.32 324.20,157.34 324.30,156.65 324.40,156.41 324.50,156.64 324.60,157.31 324.70,158.30 324.80,159.46 324.90,160.63 325.00,161.71 325.10,162.63 325.20,163.34 325.30,163.88 325.40,164.26 325.50,164.51 325.60,164.68 325.70,164.79 325.80,164.84 325.90,164.87 326.00,164.89 326.10,164.90 326.20,164.90 326.30,164.89 326.40,164.89 326.50,164.88 326.60,164.86 326.70,164.85 326.80,164.89 326.90,164.93 327.00,164.96 327.10,165.00 327.20,165.03 327.30,165.05 327.40,165.06 327.70,165.10 328.20,165.01 328.70,165.15 329.20,165.09 329.70,164.90 330.20,164.98 330.70,164.93 331.20,164.98 331.70,164.95 332.20,165.04 332.70,165.07 333.20,164.87 333.70,165.09 334.20,165.02 334.70,165.10 335.20,165.00 335.70,164.85 336.20,165.02 336.70,165.06 337.20,165.06 337.70,165.02 338.20,164.95 338.70,164.96 339.20,164.97 339.70,164.95 340.20,165.03 340.70,165.06 341.20,165.09 341.70,165.06 342.20,165.02 342.70,165.08 343.20,165.03 343.70,164.95 344.20,165.10 344.70,165.03 345.20,165.03 345.70,165.13 346.20,165.08 346.70,165.09 347.20,165.19 347.70,165.13 348.20,165.10 348.70,165.05 349.20,164.88 349.70,164.84 350.20,164.96 350.70,165.22 351.20,165.02 351.70,165.00 352.20,165.08 352.70,165.12 353.20,165.07 353.70,165.08 354.20,165.06 354.70,165.01" fill="none" stroke="#b76be6" stroke-width="2.2" stroke-linejoin="round"/>
<rect x="34.7" y="1.7" width="320.7" height="257.6" fill="none" stroke="#000" stroke-width="2.1"/>
<line x1="34.70" y1="259.3" x2="34.70" y2="262.5" stroke="#000" stroke-width="1.8"/>
<line x1="74.79" y1="259.3" x2="74.79" y2="264.3" stroke="#000" stroke-width="1.8"/>
<line x1="114.88" y1="259.3" x2="114.88" y2="262.5" stroke="#000" stroke-width="1.8"/>
<line x1="154.96" y1="259.3" x2="154.96" y2="264.3" stroke="#000" stroke-width="1.8"/>
<line x1="195.05" y1="259.3" x2="195.05" y2="262.5" stroke="#000" stroke-width="1.8"/>
<line x1="235.14" y1="259.3" x2="235.14" y2="264.3" stroke="#000" stroke-width="1.8"/>
<line x1="275.23" y1="259.3" x2="275.23" y2="262.5" stroke="#000" stroke-width="1.8"/>
<line x1="315.31" y1="259.3" x2="315.31" y2="264.3" stroke="#000" stroke-width="1.8"/>
<line x1="355.40" y1="259.3" x2="355.40" y2="262.5" stroke="#000" stroke-width="1.8"/>
<text x="74.79" y="284.1" font-size="18.2" text-anchor="middle" class="t">20</text>
<text x="154.96" y="284.1" font-size="18.2" text-anchor="middle" class="t">40</text>
<text x="235.14" y="284.1" font-size="18.2" text-anchor="middle" class="t">60</text>
<text x="315.31" y="284.1" font-size="18.2" text-anchor="middle" class="t">80</text>
<text x="195.3" y="311.9" font-size="22.3" text-anchor="middle" class="t">2 Theta (degree)</text>
<text transform="translate(18.0,124.0) rotate(-90) scale(0.97,1)" font-size="23" text-anchor="middle" class="t">Intensity (a.u.)</text>
<circle cx="148.4" cy="25" r="2.5" fill="#000"/>
<circle cx="173" cy="105.2" r="2.5" fill="#000"/>
<circle cx="254.6" cy="139.0" r="2.5" fill="#000"/>
<circle cx="307.4" cy="130.9" r="2.5" fill="#000"/>
<circle cx="324.5" cy="151" r="2.5" fill="#000"/>
<path d="M72.1,151.4 L75.1,155.1 L72.1,158.79999999999998 L69.1,155.1 Z" fill="#000"/>
<path d="M78.5,151.4 L81.5,155.1 L78.5,158.79999999999998 L75.5,155.1 Z" fill="#000"/>
<path d="M84.8,151.4 L87.8,155.1 L84.8,158.79999999999998 L81.8,155.1 Z" fill="#000"/>
<path d="M155.7,150.70000000000002 L158.7,154.4 L155.7,158.1 L152.7,154.4 Z" fill="#000"/>
<path d="M161.3,150.70000000000002 L164.3,154.4 L161.3,158.1 L158.3,154.4 Z" fill="#000"/>
<circle cx="50.7" cy="23.2" r="2.0" fill="#000"/>
<path d="M52.6,34.65 L55.300000000000004,38.05 L52.6,41.449999999999996 L49.9,38.05 Z" fill="#000"/>
<line x1="55.7" y1="23.1" x2="82" y2="23.1" stroke="#404040" stroke-width="2"/>
<line x1="55.7" y1="38.0" x2="82" y2="38.0" stroke="#f03030" stroke-width="2"/>
<text x="84.3" y="26.3" font-size="11" font-weight="bold" class="t">Al</text>
<text x="84.3" y="41.1" font-size="11" font-weight="bold" class="t">MgZn<tspan font-size="7.5" dy="3.2">2</tspan></text>
<text x="281.0" y="160.1" font-size="9.2" font-weight="bold" text-anchor="middle" fill="#b76be6" class="t">7055-0.45Sc</text>
<text x="284.0" y="181.2" font-size="9.2" font-weight="bold" text-anchor="middle" fill="#22a860" class="t">7055-0.35Sc</text>
<text x="281.1" y="201.1" font-size="9.2" font-weight="bold" text-anchor="middle" fill="#1560e0" class="t">7055-0.25Sc</text>
<text x="281.8" y="221.0" font-size="9.2" font-weight="bold" text-anchor="middle" fill="#e81020" class="t">7055-0.15Sc</text>
<text x="280.6" y="240.5" font-size="9.2" font-weight="bold" text-anchor="middle" fill="#202020" class="t">7055-0Sc</text>
</svg>
</body></html>
